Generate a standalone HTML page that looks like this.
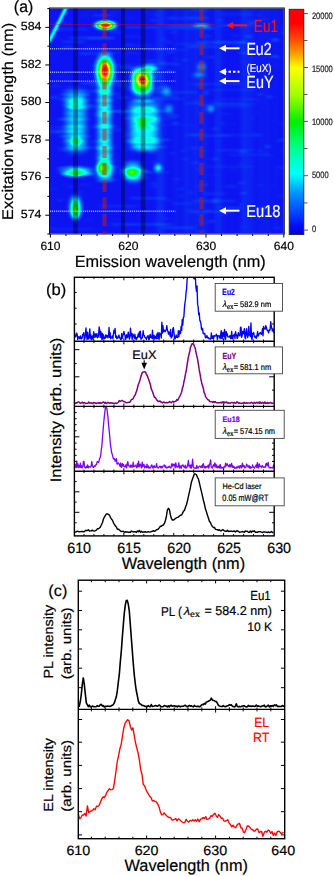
<!DOCTYPE html>
<html><head><meta charset="utf-8"><style>
html,body{margin:0;padding:0;background:#fff;}
body{width:334px;height:876px;overflow:hidden;}
svg{display:block;font-family:"Liberation Sans", sans-serif;text-rendering:geometricPrecision;}
text{stroke:currentColor;stroke-width:0.2px;}
</style></head><body>
<svg xmlns="http://www.w3.org/2000/svg" width="334" height="876" viewBox="0 0 334 876">
<defs>
<clipPath id="clipA"><rect x="50.0" y="8.5" width="233.8" height="225.0"/></clipPath>
<filter id="jet" x="0" y="0" width="100%" height="100%" color-interpolation-filters="sRGB"><feComponentTransfer><feFuncR type="table" tableValues="0.05 0.04 0.02 1 1"/><feFuncG type="table" tableValues="0.08 1 1 1 0"/><feFuncB type="table" tableValues="0.95 1 0 0 0"/></feComponentTransfer></filter>
<filter id="bl1" x="-50%" y="-50%" width="200%" height="200%"><feGaussianBlur stdDeviation="1"/></filter>
<filter id="bl2" x="-50%" y="-50%" width="200%" height="200%"><feGaussianBlur stdDeviation="2"/></filter>
<filter id="bl3" x="-50%" y="-50%" width="200%" height="200%"><feGaussianBlur stdDeviation="3"/></filter>
<filter id="blh" x="-50%" y="-50%" width="200%" height="200%"><feGaussianBlur stdDeviation="2 0.6"/></filter>
<radialGradient id="spot"><stop offset="0" stop-color="#fff" stop-opacity="1"/><stop offset="0.3" stop-color="#fff" stop-opacity="0.97"/><stop offset="0.5" stop-color="#fff" stop-opacity="0.78"/><stop offset="0.7" stop-color="#fff" stop-opacity="0.48"/><stop offset="0.87" stop-color="#fff" stop-opacity="0.2"/><stop offset="1" stop-color="#fff" stop-opacity="0"/></radialGradient>
<radialGradient id="soft"><stop offset="0" stop-color="#fff" stop-opacity="1"/><stop offset="0.5" stop-color="#fff" stop-opacity="0.6"/><stop offset="1" stop-color="#fff" stop-opacity="0"/></radialGradient>
<linearGradient id="cbar" x1="0" y1="0" x2="0" y2="1"><stop offset="0" stop-color="#ff0000"/><stop offset="0.06" stop-color="#ff0000"/><stop offset="0.14" stop-color="#ff5000"/><stop offset="0.2" stop-color="#ffa000"/><stop offset="0.26" stop-color="#ffff00"/><stop offset="0.38" stop-color="#a0ff00"/><stop offset="0.5" stop-color="#00ee00"/><stop offset="0.62" stop-color="#00ff90"/><stop offset="0.73" stop-color="#00ffff"/><stop offset="0.82" stop-color="#0090ff"/><stop offset="0.9" stop-color="#0048ff"/><stop offset="0.96" stop-color="#0010f0"/><stop offset="1" stop-color="#0000e0"/></linearGradient>
<filter id="bl08" x="-10%" y="-10%" width="120%" height="120%"><feGaussianBlur stdDeviation="0.8"/></filter>
<radialGradient id="g150"><stop offset="0" stop-color="#fff" stop-opacity="1"/><stop offset="0.05" stop-color="#fff" stop-opacity="1"/><stop offset="0.1" stop-color="#fff" stop-opacity="1"/><stop offset="0.15" stop-color="#fff" stop-opacity="1"/><stop offset="0.2" stop-color="#fff" stop-opacity="1"/><stop offset="0.25" stop-color="#fff" stop-opacity="1"/><stop offset="0.3" stop-color="#fff" stop-opacity="1"/><stop offset="0.35" stop-color="#fff" stop-opacity="0.97"/><stop offset="0.4" stop-color="#fff" stop-opacity="0.85"/><stop offset="0.45" stop-color="#fff" stop-opacity="0.73"/><stop offset="0.5" stop-color="#fff" stop-opacity="0.61"/><stop offset="0.55" stop-color="#fff" stop-opacity="0.51"/><stop offset="0.6" stop-color="#fff" stop-opacity="0.41"/><stop offset="0.65" stop-color="#fff" stop-opacity="0.32"/><stop offset="0.7" stop-color="#fff" stop-opacity="0.24"/><stop offset="0.75" stop-color="#fff" stop-opacity="0.18"/><stop offset="0.8" stop-color="#fff" stop-opacity="0.13"/><stop offset="0.85" stop-color="#fff" stop-opacity="0.08"/><stop offset="0.9" stop-color="#fff" stop-opacity="0.05"/><stop offset="0.95" stop-color="#fff" stop-opacity="0.02"/><stop offset="1" stop-color="#fff" stop-opacity="0"/></radialGradient>
<filter id="bf0" x="-60%" y="-60%" width="220%" height="220%"><feGaussianBlur stdDeviation="2.2 5"/></filter>
<radialGradient id="g114"><stop offset="0" stop-color="#fff" stop-opacity="1"/><stop offset="0.05" stop-color="#fff" stop-opacity="1"/><stop offset="0.1" stop-color="#fff" stop-opacity="1"/><stop offset="0.15" stop-color="#fff" stop-opacity="1"/><stop offset="0.2" stop-color="#fff" stop-opacity="1"/><stop offset="0.25" stop-color="#fff" stop-opacity="0.92"/><stop offset="0.3" stop-color="#fff" stop-opacity="0.84"/><stop offset="0.35" stop-color="#fff" stop-opacity="0.75"/><stop offset="0.4" stop-color="#fff" stop-opacity="0.65"/><stop offset="0.45" stop-color="#fff" stop-opacity="0.56"/><stop offset="0.5" stop-color="#fff" stop-opacity="0.47"/><stop offset="0.55" stop-color="#fff" stop-opacity="0.39"/><stop offset="0.6" stop-color="#fff" stop-opacity="0.31"/><stop offset="0.65" stop-color="#fff" stop-opacity="0.24"/><stop offset="0.7" stop-color="#fff" stop-opacity="0.19"/><stop offset="0.75" stop-color="#fff" stop-opacity="0.14"/><stop offset="0.8" stop-color="#fff" stop-opacity="0.1"/><stop offset="0.85" stop-color="#fff" stop-opacity="0.06"/><stop offset="0.9" stop-color="#fff" stop-opacity="0.04"/><stop offset="0.95" stop-color="#fff" stop-opacity="0.02"/><stop offset="1" stop-color="#fff" stop-opacity="0"/></radialGradient>
<filter id="bf1" x="-60%" y="-60%" width="220%" height="220%"><feGaussianBlur stdDeviation="2 2"/></filter>
<radialGradient id="g44"><stop offset="0" stop-color="#fff" stop-opacity="0.44"/><stop offset="0.05" stop-color="#fff" stop-opacity="0.44"/><stop offset="0.1" stop-color="#fff" stop-opacity="0.42"/><stop offset="0.15" stop-color="#fff" stop-opacity="0.41"/><stop offset="0.2" stop-color="#fff" stop-opacity="0.38"/><stop offset="0.25" stop-color="#fff" stop-opacity="0.35"/><stop offset="0.3" stop-color="#fff" stop-opacity="0.32"/><stop offset="0.35" stop-color="#fff" stop-opacity="0.29"/><stop offset="0.4" stop-color="#fff" stop-opacity="0.25"/><stop offset="0.45" stop-color="#fff" stop-opacity="0.21"/><stop offset="0.5" stop-color="#fff" stop-opacity="0.18"/><stop offset="0.55" stop-color="#fff" stop-opacity="0.15"/><stop offset="0.6" stop-color="#fff" stop-opacity="0.12"/><stop offset="0.65" stop-color="#fff" stop-opacity="0.09"/><stop offset="0.7" stop-color="#fff" stop-opacity="0.07"/><stop offset="0.75" stop-color="#fff" stop-opacity="0.05"/><stop offset="0.8" stop-color="#fff" stop-opacity="0.04"/><stop offset="0.85" stop-color="#fff" stop-opacity="0.02"/><stop offset="0.9" stop-color="#fff" stop-opacity="0.01"/><stop offset="0.95" stop-color="#fff" stop-opacity="0.01"/><stop offset="1" stop-color="#fff" stop-opacity="0"/></radialGradient>
<filter id="bf2" x="-60%" y="-60%" width="220%" height="220%"><feGaussianBlur stdDeviation="2.5 2.5"/></filter>
<filter id="bf3" x="-60%" y="-60%" width="220%" height="220%"><feGaussianBlur stdDeviation="1.5 1.5"/></filter>
<radialGradient id="g120"><stop offset="0" stop-color="#fff" stop-opacity="1"/><stop offset="0.05" stop-color="#fff" stop-opacity="1"/><stop offset="0.1" stop-color="#fff" stop-opacity="1"/><stop offset="0.15" stop-color="#fff" stop-opacity="1"/><stop offset="0.2" stop-color="#fff" stop-opacity="1"/><stop offset="0.25" stop-color="#fff" stop-opacity="0.96"/><stop offset="0.3" stop-color="#fff" stop-opacity="0.87"/><stop offset="0.35" stop-color="#fff" stop-opacity="0.78"/><stop offset="0.4" stop-color="#fff" stop-opacity="0.68"/><stop offset="0.45" stop-color="#fff" stop-opacity="0.58"/><stop offset="0.5" stop-color="#fff" stop-opacity="0.49"/><stop offset="0.55" stop-color="#fff" stop-opacity="0.4"/><stop offset="0.6" stop-color="#fff" stop-opacity="0.33"/><stop offset="0.65" stop-color="#fff" stop-opacity="0.26"/><stop offset="0.7" stop-color="#fff" stop-opacity="0.19"/><stop offset="0.75" stop-color="#fff" stop-opacity="0.14"/><stop offset="0.8" stop-color="#fff" stop-opacity="0.1"/><stop offset="0.85" stop-color="#fff" stop-opacity="0.07"/><stop offset="0.9" stop-color="#fff" stop-opacity="0.04"/><stop offset="0.95" stop-color="#fff" stop-opacity="0.02"/><stop offset="1" stop-color="#fff" stop-opacity="0"/></radialGradient>
<filter id="bf4" x="-60%" y="-60%" width="220%" height="220%"><feGaussianBlur stdDeviation="3 4"/></filter>
<radialGradient id="g42"><stop offset="0" stop-color="#fff" stop-opacity="0.42"/><stop offset="0.05" stop-color="#fff" stop-opacity="0.42"/><stop offset="0.1" stop-color="#fff" stop-opacity="0.41"/><stop offset="0.15" stop-color="#fff" stop-opacity="0.39"/><stop offset="0.2" stop-color="#fff" stop-opacity="0.37"/><stop offset="0.25" stop-color="#fff" stop-opacity="0.34"/><stop offset="0.3" stop-color="#fff" stop-opacity="0.31"/><stop offset="0.35" stop-color="#fff" stop-opacity="0.27"/><stop offset="0.4" stop-color="#fff" stop-opacity="0.24"/><stop offset="0.45" stop-color="#fff" stop-opacity="0.2"/><stop offset="0.5" stop-color="#fff" stop-opacity="0.17"/><stop offset="0.55" stop-color="#fff" stop-opacity="0.14"/><stop offset="0.6" stop-color="#fff" stop-opacity="0.11"/><stop offset="0.65" stop-color="#fff" stop-opacity="0.09"/><stop offset="0.7" stop-color="#fff" stop-opacity="0.07"/><stop offset="0.75" stop-color="#fff" stop-opacity="0.05"/><stop offset="0.8" stop-color="#fff" stop-opacity="0.04"/><stop offset="0.85" stop-color="#fff" stop-opacity="0.02"/><stop offset="0.9" stop-color="#fff" stop-opacity="0.01"/><stop offset="0.95" stop-color="#fff" stop-opacity="0.01"/><stop offset="1" stop-color="#fff" stop-opacity="0"/></radialGradient>
<radialGradient id="g45"><stop offset="0" stop-color="#fff" stop-opacity="0.45"/><stop offset="0.05" stop-color="#fff" stop-opacity="0.45"/><stop offset="0.1" stop-color="#fff" stop-opacity="0.43"/><stop offset="0.15" stop-color="#fff" stop-opacity="0.42"/><stop offset="0.2" stop-color="#fff" stop-opacity="0.39"/><stop offset="0.25" stop-color="#fff" stop-opacity="0.36"/><stop offset="0.3" stop-color="#fff" stop-opacity="0.33"/><stop offset="0.35" stop-color="#fff" stop-opacity="0.29"/><stop offset="0.4" stop-color="#fff" stop-opacity="0.26"/><stop offset="0.45" stop-color="#fff" stop-opacity="0.22"/><stop offset="0.5" stop-color="#fff" stop-opacity="0.18"/><stop offset="0.55" stop-color="#fff" stop-opacity="0.15"/><stop offset="0.6" stop-color="#fff" stop-opacity="0.12"/><stop offset="0.65" stop-color="#fff" stop-opacity="0.1"/><stop offset="0.7" stop-color="#fff" stop-opacity="0.07"/><stop offset="0.75" stop-color="#fff" stop-opacity="0.05"/><stop offset="0.8" stop-color="#fff" stop-opacity="0.04"/><stop offset="0.85" stop-color="#fff" stop-opacity="0.02"/><stop offset="0.9" stop-color="#fff" stop-opacity="0.01"/><stop offset="0.95" stop-color="#fff" stop-opacity="0.01"/><stop offset="1" stop-color="#fff" stop-opacity="0"/></radialGradient>
<radialGradient id="g28"><stop offset="0" stop-color="#fff" stop-opacity="0.28"/><stop offset="0.05" stop-color="#fff" stop-opacity="0.28"/><stop offset="0.1" stop-color="#fff" stop-opacity="0.27"/><stop offset="0.15" stop-color="#fff" stop-opacity="0.26"/><stop offset="0.2" stop-color="#fff" stop-opacity="0.24"/><stop offset="0.25" stop-color="#fff" stop-opacity="0.22"/><stop offset="0.3" stop-color="#fff" stop-opacity="0.2"/><stop offset="0.35" stop-color="#fff" stop-opacity="0.18"/><stop offset="0.4" stop-color="#fff" stop-opacity="0.16"/><stop offset="0.45" stop-color="#fff" stop-opacity="0.14"/><stop offset="0.5" stop-color="#fff" stop-opacity="0.11"/><stop offset="0.55" stop-color="#fff" stop-opacity="0.09"/><stop offset="0.6" stop-color="#fff" stop-opacity="0.08"/><stop offset="0.65" stop-color="#fff" stop-opacity="0.06"/><stop offset="0.7" stop-color="#fff" stop-opacity="0.05"/><stop offset="0.75" stop-color="#fff" stop-opacity="0.03"/><stop offset="0.8" stop-color="#fff" stop-opacity="0.02"/><stop offset="0.85" stop-color="#fff" stop-opacity="0.02"/><stop offset="0.9" stop-color="#fff" stop-opacity="0.01"/><stop offset="0.95" stop-color="#fff" stop-opacity="0"/><stop offset="1" stop-color="#fff" stop-opacity="0"/></radialGradient>
<radialGradient id="g30"><stop offset="0" stop-color="#fff" stop-opacity="0.3"/><stop offset="0.05" stop-color="#fff" stop-opacity="0.3"/><stop offset="0.1" stop-color="#fff" stop-opacity="0.29"/><stop offset="0.15" stop-color="#fff" stop-opacity="0.28"/><stop offset="0.2" stop-color="#fff" stop-opacity="0.26"/><stop offset="0.25" stop-color="#fff" stop-opacity="0.24"/><stop offset="0.3" stop-color="#fff" stop-opacity="0.22"/><stop offset="0.35" stop-color="#fff" stop-opacity="0.19"/><stop offset="0.4" stop-color="#fff" stop-opacity="0.17"/><stop offset="0.45" stop-color="#fff" stop-opacity="0.15"/><stop offset="0.5" stop-color="#fff" stop-opacity="0.12"/><stop offset="0.55" stop-color="#fff" stop-opacity="0.1"/><stop offset="0.6" stop-color="#fff" stop-opacity="0.08"/><stop offset="0.65" stop-color="#fff" stop-opacity="0.06"/><stop offset="0.7" stop-color="#fff" stop-opacity="0.05"/><stop offset="0.75" stop-color="#fff" stop-opacity="0.04"/><stop offset="0.8" stop-color="#fff" stop-opacity="0.03"/><stop offset="0.85" stop-color="#fff" stop-opacity="0.02"/><stop offset="0.9" stop-color="#fff" stop-opacity="0.01"/><stop offset="0.95" stop-color="#fff" stop-opacity="0"/><stop offset="1" stop-color="#fff" stop-opacity="0"/></radialGradient>
<filter id="bf5" x="-60%" y="-60%" width="220%" height="220%"><feGaussianBlur stdDeviation="3 1"/></filter>
<radialGradient id="g36"><stop offset="0" stop-color="#fff" stop-opacity="0.36"/><stop offset="0.05" stop-color="#fff" stop-opacity="0.36"/><stop offset="0.1" stop-color="#fff" stop-opacity="0.35"/><stop offset="0.15" stop-color="#fff" stop-opacity="0.33"/><stop offset="0.2" stop-color="#fff" stop-opacity="0.31"/><stop offset="0.25" stop-color="#fff" stop-opacity="0.29"/><stop offset="0.3" stop-color="#fff" stop-opacity="0.26"/><stop offset="0.35" stop-color="#fff" stop-opacity="0.23"/><stop offset="0.4" stop-color="#fff" stop-opacity="0.2"/><stop offset="0.45" stop-color="#fff" stop-opacity="0.18"/><stop offset="0.5" stop-color="#fff" stop-opacity="0.15"/><stop offset="0.55" stop-color="#fff" stop-opacity="0.12"/><stop offset="0.6" stop-color="#fff" stop-opacity="0.1"/><stop offset="0.65" stop-color="#fff" stop-opacity="0.08"/><stop offset="0.7" stop-color="#fff" stop-opacity="0.06"/><stop offset="0.75" stop-color="#fff" stop-opacity="0.04"/><stop offset="0.8" stop-color="#fff" stop-opacity="0.03"/><stop offset="0.85" stop-color="#fff" stop-opacity="0.02"/><stop offset="0.9" stop-color="#fff" stop-opacity="0.01"/><stop offset="0.95" stop-color="#fff" stop-opacity="0"/><stop offset="1" stop-color="#fff" stop-opacity="0"/></radialGradient>
<radialGradient id="g50"><stop offset="0" stop-color="#fff" stop-opacity="0.5"/><stop offset="0.05" stop-color="#fff" stop-opacity="0.5"/><stop offset="0.1" stop-color="#fff" stop-opacity="0.48"/><stop offset="0.15" stop-color="#fff" stop-opacity="0.46"/><stop offset="0.2" stop-color="#fff" stop-opacity="0.43"/><stop offset="0.25" stop-color="#fff" stop-opacity="0.4"/><stop offset="0.3" stop-color="#fff" stop-opacity="0.36"/><stop offset="0.35" stop-color="#fff" stop-opacity="0.32"/><stop offset="0.4" stop-color="#fff" stop-opacity="0.28"/><stop offset="0.45" stop-color="#fff" stop-opacity="0.24"/><stop offset="0.5" stop-color="#fff" stop-opacity="0.2"/><stop offset="0.55" stop-color="#fff" stop-opacity="0.17"/><stop offset="0.6" stop-color="#fff" stop-opacity="0.14"/><stop offset="0.65" stop-color="#fff" stop-opacity="0.11"/><stop offset="0.7" stop-color="#fff" stop-opacity="0.08"/><stop offset="0.75" stop-color="#fff" stop-opacity="0.06"/><stop offset="0.8" stop-color="#fff" stop-opacity="0.04"/><stop offset="0.85" stop-color="#fff" stop-opacity="0.03"/><stop offset="0.9" stop-color="#fff" stop-opacity="0.02"/><stop offset="0.95" stop-color="#fff" stop-opacity="0.01"/><stop offset="1" stop-color="#fff" stop-opacity="0"/></radialGradient>
<radialGradient id="g22"><stop offset="0" stop-color="#fff" stop-opacity="0.22"/><stop offset="0.05" stop-color="#fff" stop-opacity="0.22"/><stop offset="0.1" stop-color="#fff" stop-opacity="0.21"/><stop offset="0.15" stop-color="#fff" stop-opacity="0.2"/><stop offset="0.2" stop-color="#fff" stop-opacity="0.19"/><stop offset="0.25" stop-color="#fff" stop-opacity="0.18"/><stop offset="0.3" stop-color="#fff" stop-opacity="0.16"/><stop offset="0.35" stop-color="#fff" stop-opacity="0.14"/><stop offset="0.4" stop-color="#fff" stop-opacity="0.12"/><stop offset="0.45" stop-color="#fff" stop-opacity="0.11"/><stop offset="0.5" stop-color="#fff" stop-opacity="0.09"/><stop offset="0.55" stop-color="#fff" stop-opacity="0.07"/><stop offset="0.6" stop-color="#fff" stop-opacity="0.06"/><stop offset="0.65" stop-color="#fff" stop-opacity="0.05"/><stop offset="0.7" stop-color="#fff" stop-opacity="0.04"/><stop offset="0.75" stop-color="#fff" stop-opacity="0.03"/><stop offset="0.8" stop-color="#fff" stop-opacity="0.02"/><stop offset="0.85" stop-color="#fff" stop-opacity="0.01"/><stop offset="0.9" stop-color="#fff" stop-opacity="0.01"/><stop offset="0.95" stop-color="#fff" stop-opacity="0"/><stop offset="1" stop-color="#fff" stop-opacity="0"/></radialGradient>
<radialGradient id="g15"><stop offset="0" stop-color="#fff" stop-opacity="0.15"/><stop offset="0.05" stop-color="#fff" stop-opacity="0.15"/><stop offset="0.1" stop-color="#fff" stop-opacity="0.14"/><stop offset="0.15" stop-color="#fff" stop-opacity="0.14"/><stop offset="0.2" stop-color="#fff" stop-opacity="0.13"/><stop offset="0.25" stop-color="#fff" stop-opacity="0.12"/><stop offset="0.3" stop-color="#fff" stop-opacity="0.11"/><stop offset="0.35" stop-color="#fff" stop-opacity="0.1"/><stop offset="0.4" stop-color="#fff" stop-opacity="0.09"/><stop offset="0.45" stop-color="#fff" stop-opacity="0.07"/><stop offset="0.5" stop-color="#fff" stop-opacity="0.06"/><stop offset="0.55" stop-color="#fff" stop-opacity="0.05"/><stop offset="0.6" stop-color="#fff" stop-opacity="0.04"/><stop offset="0.65" stop-color="#fff" stop-opacity="0.03"/><stop offset="0.7" stop-color="#fff" stop-opacity="0.02"/><stop offset="0.75" stop-color="#fff" stop-opacity="0.02"/><stop offset="0.8" stop-color="#fff" stop-opacity="0.01"/><stop offset="0.85" stop-color="#fff" stop-opacity="0.01"/><stop offset="0.9" stop-color="#fff" stop-opacity="0"/><stop offset="0.95" stop-color="#fff" stop-opacity="0"/><stop offset="1" stop-color="#fff" stop-opacity="0"/></radialGradient>
<radialGradient id="g12"><stop offset="0" stop-color="#fff" stop-opacity="0.12"/><stop offset="0.05" stop-color="#fff" stop-opacity="0.12"/><stop offset="0.1" stop-color="#fff" stop-opacity="0.12"/><stop offset="0.15" stop-color="#fff" stop-opacity="0.11"/><stop offset="0.2" stop-color="#fff" stop-opacity="0.1"/><stop offset="0.25" stop-color="#fff" stop-opacity="0.1"/><stop offset="0.3" stop-color="#fff" stop-opacity="0.09"/><stop offset="0.35" stop-color="#fff" stop-opacity="0.08"/><stop offset="0.4" stop-color="#fff" stop-opacity="0.07"/><stop offset="0.45" stop-color="#fff" stop-opacity="0.06"/><stop offset="0.5" stop-color="#fff" stop-opacity="0.05"/><stop offset="0.55" stop-color="#fff" stop-opacity="0.04"/><stop offset="0.6" stop-color="#fff" stop-opacity="0.03"/><stop offset="0.65" stop-color="#fff" stop-opacity="0.03"/><stop offset="0.7" stop-color="#fff" stop-opacity="0.02"/><stop offset="0.75" stop-color="#fff" stop-opacity="0.01"/><stop offset="0.8" stop-color="#fff" stop-opacity="0.01"/><stop offset="0.85" stop-color="#fff" stop-opacity="0.01"/><stop offset="0.9" stop-color="#fff" stop-opacity="0"/><stop offset="0.95" stop-color="#fff" stop-opacity="0"/><stop offset="1" stop-color="#fff" stop-opacity="0"/></radialGradient>
<radialGradient id="g16"><stop offset="0" stop-color="#fff" stop-opacity="0.16"/><stop offset="0.05" stop-color="#fff" stop-opacity="0.16"/><stop offset="0.1" stop-color="#fff" stop-opacity="0.15"/><stop offset="0.15" stop-color="#fff" stop-opacity="0.15"/><stop offset="0.2" stop-color="#fff" stop-opacity="0.14"/><stop offset="0.25" stop-color="#fff" stop-opacity="0.13"/><stop offset="0.3" stop-color="#fff" stop-opacity="0.12"/><stop offset="0.35" stop-color="#fff" stop-opacity="0.1"/><stop offset="0.4" stop-color="#fff" stop-opacity="0.09"/><stop offset="0.45" stop-color="#fff" stop-opacity="0.08"/><stop offset="0.5" stop-color="#fff" stop-opacity="0.07"/><stop offset="0.55" stop-color="#fff" stop-opacity="0.05"/><stop offset="0.6" stop-color="#fff" stop-opacity="0.04"/><stop offset="0.65" stop-color="#fff" stop-opacity="0.03"/><stop offset="0.7" stop-color="#fff" stop-opacity="0.03"/><stop offset="0.75" stop-color="#fff" stop-opacity="0.02"/><stop offset="0.8" stop-color="#fff" stop-opacity="0.01"/><stop offset="0.85" stop-color="#fff" stop-opacity="0.01"/><stop offset="0.9" stop-color="#fff" stop-opacity="0.01"/><stop offset="0.95" stop-color="#fff" stop-opacity="0"/><stop offset="1" stop-color="#fff" stop-opacity="0"/></radialGradient>
<radialGradient id="g14"><stop offset="0" stop-color="#fff" stop-opacity="0.14"/><stop offset="0.05" stop-color="#fff" stop-opacity="0.14"/><stop offset="0.1" stop-color="#fff" stop-opacity="0.14"/><stop offset="0.15" stop-color="#fff" stop-opacity="0.13"/><stop offset="0.2" stop-color="#fff" stop-opacity="0.12"/><stop offset="0.25" stop-color="#fff" stop-opacity="0.11"/><stop offset="0.3" stop-color="#fff" stop-opacity="0.1"/><stop offset="0.35" stop-color="#fff" stop-opacity="0.09"/><stop offset="0.4" stop-color="#fff" stop-opacity="0.08"/><stop offset="0.45" stop-color="#fff" stop-opacity="0.07"/><stop offset="0.5" stop-color="#fff" stop-opacity="0.06"/><stop offset="0.55" stop-color="#fff" stop-opacity="0.05"/><stop offset="0.6" stop-color="#fff" stop-opacity="0.04"/><stop offset="0.65" stop-color="#fff" stop-opacity="0.03"/><stop offset="0.7" stop-color="#fff" stop-opacity="0.02"/><stop offset="0.75" stop-color="#fff" stop-opacity="0.02"/><stop offset="0.8" stop-color="#fff" stop-opacity="0.01"/><stop offset="0.85" stop-color="#fff" stop-opacity="0.01"/><stop offset="0.9" stop-color="#fff" stop-opacity="0"/><stop offset="0.95" stop-color="#fff" stop-opacity="0"/><stop offset="1" stop-color="#fff" stop-opacity="0"/></radialGradient>
</defs>
<g clip-path="url(#clipA)">
<g filter="url(#jet)">
<rect x="50.0" y="8.5" width="233.8" height="225.0" fill="#000"/>
<g filter="url(#bl08)">
<g filter="url(#blh)">
<rect x="68.66" y="81.36" width="36.04" height="1.5" fill="#fff" opacity="0.02"/>
<rect x="109.48" y="129.07" width="12.32" height="1.5" fill="#fff" opacity="0.04"/>
<rect x="122.39" y="16.94" width="12.79" height="1.5" fill="#fff" opacity="0.02"/>
<rect x="197.1" y="104.02" width="14.95" height="1.5" fill="#fff" opacity="0.03"/>
<rect x="220.06" y="149.67" width="33.08" height="1.5" fill="#fff" opacity="0.04"/>
<rect x="48.85" y="228.16" width="44.34" height="1.5" fill="#fff" opacity="0.03"/>
<rect x="62.38" y="40.96" width="22.34" height="1.5" fill="#fff" opacity="0.05"/>
<rect x="150.5" y="49.16" width="35.56" height="1.5" fill="#fff" opacity="0.03"/>
<rect x="51.93" y="131.74" width="12.38" height="1.5" fill="#fff" opacity="0.03"/>
<rect x="121.24" y="161.59" width="22.57" height="1.5" fill="#fff" opacity="0.04"/>
<rect x="96.96" y="110.47" width="41.78" height="1.5" fill="#fff" opacity="0.05"/>
<rect x="149.14" y="63.42" width="31.01" height="1.5" fill="#fff" opacity="0.06"/>
<rect x="94.71" y="172.63" width="49.21" height="1.5" fill="#fff" opacity="0.02"/>
<rect x="183.86" y="102.58" width="16.08" height="1.5" fill="#fff" opacity="0.04"/>
<rect x="166.96" y="17.32" width="40.58" height="1.5" fill="#fff" opacity="0.04"/>
<rect x="99.61" y="205.48" width="37.81" height="1.5" fill="#fff" opacity="0.04"/>
<rect x="126.68" y="138.98" width="43.6" height="1.5" fill="#fff" opacity="0.06"/>
<rect x="166.19" y="115.17" width="12.43" height="1.5" fill="#fff" opacity="0.05"/>
<rect x="228.69" y="154.1" width="42.88" height="1.5" fill="#fff" opacity="0.03"/>
<rect x="167.04" y="95.3" width="10.9" height="1.5" fill="#fff" opacity="0.04"/>
<rect x="62.25" y="46.31" width="12.36" height="1.5" fill="#fff" opacity="0.05"/>
<rect x="87.05" y="37.6" width="25.64" height="1.5" fill="#fff" opacity="0.05"/>
<rect x="125.35" y="26.63" width="31.98" height="1.5" fill="#fff" opacity="0.06"/>
<rect x="204.16" y="192.84" width="21.14" height="1.5" fill="#fff" opacity="0.04"/>
<rect x="208" y="89.22" width="48.31" height="1.5" fill="#fff" opacity="0.03"/>
<rect x="84.07" y="48.15" width="19.33" height="1.5" fill="#fff" opacity="0.04"/>
<rect x="89.92" y="141.05" width="10.16" height="1.5" fill="#fff" opacity="0.04"/>
<rect x="147.6" y="91.58" width="48.12" height="1.5" fill="#fff" opacity="0.05"/>
<rect x="157.34" y="124.49" width="37.05" height="1.5" fill="#fff" opacity="0.02"/>
<rect x="188.19" y="210.89" width="44.98" height="1.5" fill="#fff" opacity="0.05"/>
<rect x="115.81" y="96.79" width="14.14" height="1.5" fill="#fff" opacity="0.05"/>
<rect x="52.8" y="22.51" width="18.35" height="1.5" fill="#fff" opacity="0.03"/>
<rect x="49.99" y="85.01" width="10.01" height="1.5" fill="#fff" opacity="0.03"/>
<rect x="109.09" y="31.33" width="11.02" height="1.5" fill="#fff" opacity="0.05"/>
<rect x="68.22" y="146.67" width="20.09" height="1.5" fill="#fff" opacity="0.03"/>
<rect x="63.34" y="90.44" width="43.96" height="1.5" fill="#fff" opacity="0.06"/>
<rect x="131.93" y="113.35" width="13.44" height="1.5" fill="#fff" opacity="0.02"/>
<rect x="90.3" y="85.59" width="43.15" height="1.5" fill="#fff" opacity="0.03"/>
<rect x="220.69" y="13.7" width="31.13" height="1.5" fill="#fff" opacity="0.03"/>
<rect x="45.14" y="130.71" width="31.12" height="1.5" fill="#fff" opacity="0.06"/>
<rect x="172.28" y="202.75" width="20.44" height="1.5" fill="#fff" opacity="0.03"/>
<rect x="186.67" y="46.08" width="31.3" height="1.5" fill="#fff" opacity="0.05"/>
<rect x="82.38" y="82.67" width="42.46" height="1.5" fill="#fff" opacity="0.06"/>
<rect x="193.15" y="200.34" width="42.73" height="1.5" fill="#fff" opacity="0.05"/>
<rect x="138.35" y="59.52" width="24.22" height="1.5" fill="#fff" opacity="0.02"/>
<rect x="93.09" y="14.79" width="20.37" height="1.5" fill="#fff" opacity="0.05"/>
<rect x="124.97" y="223.72" width="47.48" height="1.5" fill="#fff" opacity="0.06"/>
<rect x="109.28" y="223.38" width="18.82" height="1.5" fill="#fff" opacity="0.03"/>
<rect x="78.83" y="52.76" width="34.96" height="1.5" fill="#fff" opacity="0.06"/>
<rect x="131.1" y="197.6" width="36.12" height="1.5" fill="#fff" opacity="0.05"/>
<rect x="165.51" y="27.58" width="46.39" height="1.5" fill="#fff" opacity="0.05"/>
<rect x="130.83" y="177.28" width="17.14" height="1.5" fill="#fff" opacity="0.05"/>
<rect x="192.16" y="83.32" width="48.87" height="1.5" fill="#fff" opacity="0.04"/>
<rect x="219.89" y="98.81" width="38.99" height="1.5" fill="#fff" opacity="0.03"/>
<rect x="68.72" y="37.08" width="46.19" height="1.5" fill="#fff" opacity="0.05"/>
<rect x="197.04" y="41.39" width="49.21" height="1.5" fill="#fff" opacity="0.05"/>
<rect x="144.25" y="87.34" width="15.24" height="1.5" fill="#fff" opacity="0.02"/>
<rect x="163.44" y="226.95" width="31.06" height="1.5" fill="#fff" opacity="0.06"/>
<rect x="205.63" y="106.11" width="43.05" height="1.5" fill="#fff" opacity="0.03"/>
<rect x="95.66" y="65.16" width="19.62" height="1.5" fill="#fff" opacity="0.04"/>
<rect x="119.61" y="66.86" width="15.24" height="1.5" fill="#fff" opacity="0.06"/>
<rect x="127.05" y="88.1" width="33.33" height="1.5" fill="#fff" opacity="0.06"/>
<rect x="214.37" y="103.14" width="30.07" height="1.5" fill="#fff" opacity="0.04"/>
<rect x="43.55" y="126.29" width="27.6" height="1.5" fill="#fff" opacity="0.03"/>
<rect x="191.84" y="9.38" width="16.89" height="1.5" fill="#fff" opacity="0.04"/>
<rect x="145.73" y="171.67" width="23.04" height="1.5" fill="#fff" opacity="0.04"/>
<rect x="189.01" y="133.47" width="14.24" height="1.5" fill="#fff" opacity="0.04"/>
<rect x="92.61" y="64.41" width="40.89" height="1.5" fill="#fff" opacity="0.04"/>
<rect x="184.4" y="134.89" width="46.5" height="1.5" fill="#fff" opacity="0.04"/>
<rect x="136.06" y="146.32" width="30.49" height="1.5" fill="#fff" opacity="0.05"/>
<rect x="141.32" y="110.28" width="29.12" height="1.5" fill="#fff" opacity="0.06"/>
<rect x="206.54" y="165.82" width="47.69" height="1.5" fill="#fff" opacity="0.03"/>
<rect x="219.22" y="134.39" width="43.6" height="1.5" fill="#fff" opacity="0.03"/>
<rect x="124" y="35.86" width="12.9" height="1.5" fill="#fff" opacity="0.03"/>
<rect x="167.2" y="24.95" width="41.36" height="1.5" fill="#fff" opacity="0.06"/>
<rect x="176.06" y="43.25" width="36.41" height="1.5" fill="#fff" opacity="0.03"/>
<rect x="223.83" y="207.14" width="18.78" height="1.5" fill="#fff" opacity="0.06"/>
<rect x="132.58" y="98.11" width="49.59" height="1.5" fill="#fff" opacity="0.05"/>
<rect x="121.99" y="44.83" width="30.62" height="1.5" fill="#fff" opacity="0.03"/>
<rect x="100.52" y="52.54" width="38.89" height="1.5" fill="#fff" opacity="0.02"/>
<rect x="123.69" y="133.16" width="10.72" height="1.5" fill="#fff" opacity="0.03"/>
<rect x="137.33" y="148.88" width="12.57" height="1.5" fill="#fff" opacity="0.06"/>
<rect x="224.62" y="185.88" width="14.19" height="1.5" fill="#fff" opacity="0.03"/>
<rect x="188.01" y="17.41" width="20.82" height="1.5" fill="#fff" opacity="0.03"/>
<rect x="213.17" y="103.51" width="42.76" height="1.5" fill="#fff" opacity="0.03"/>
<rect x="214.64" y="42.11" width="32.82" height="1.5" fill="#fff" opacity="0.05"/>
<rect x="50.93" y="28.63" width="37.53" height="1.5" fill="#fff" opacity="0.04"/>
<rect x="218.29" y="24.79" width="35.38" height="1.5" fill="#fff" opacity="0.05"/>
<rect x="202.68" y="27.34" width="12.66" height="1.5" fill="#fff" opacity="0.05"/>
<rect x="104.44" y="110.6" width="32.12" height="1.5" fill="#fff" opacity="0.06"/>
<rect x="185.89" y="8.5" width="1.5" height="225.0" fill="#fff" opacity="0.02"/>
<rect x="220.61" y="8.5" width="1.5" height="225.0" fill="#fff" opacity="0.03"/>
<rect x="164.67" y="8.5" width="1.5" height="225.0" fill="#fff" opacity="0.02"/>
<rect x="156.75" y="8.5" width="1.5" height="225.0" fill="#fff" opacity="0.03"/>
<rect x="191.81" y="8.5" width="1.5" height="225.0" fill="#fff" opacity="0.03"/>
<rect x="251.77" y="8.5" width="1.5" height="225.0" fill="#fff" opacity="0.03"/>
<rect x="217.01" y="8.5" width="1.5" height="225.0" fill="#fff" opacity="0.03"/>
<rect x="196.5" y="8.5" width="1.5" height="225.0" fill="#fff" opacity="0.02"/>
<rect x="183.56" y="8.5" width="1.5" height="225.0" fill="#fff" opacity="0.02"/>
<rect x="248.23" y="8.5" width="1.5" height="225.0" fill="#fff" opacity="0.04"/>
<rect x="175.39" y="8.5" width="1.5" height="225.0" fill="#fff" opacity="0.03"/>
<rect x="275.24" y="8.5" width="1.5" height="225.0" fill="#fff" opacity="0.02"/>
<rect x="259.74" y="8.5" width="1.5" height="225.0" fill="#fff" opacity="0.03"/>
<rect x="216.33" y="8.5" width="1.5" height="225.0" fill="#fff" opacity="0.05"/>
<rect x="202.67" y="8.5" width="1.5" height="225.0" fill="#fff" opacity="0.04"/>
<rect x="242.16" y="8.5" width="1.5" height="225.0" fill="#fff" opacity="0.05"/>
<rect x="195.92" y="8.5" width="1.5" height="225.0" fill="#fff" opacity="0.04"/>
<rect x="244.7" y="8.5" width="1.5" height="225.0" fill="#fff" opacity="0.04"/>
<rect x="204.23" y="8.5" width="1.5" height="225.0" fill="#fff" opacity="0.03"/>
<rect x="157.29" y="8.5" width="1.5" height="225.0" fill="#fff" opacity="0.02"/>
<rect x="159.48" y="8.5" width="1.5" height="225.0" fill="#fff" opacity="0.04"/>
<rect x="184.25" y="8.5" width="1.5" height="225.0" fill="#fff" opacity="0.02"/>
<rect x="161.32" y="8.5" width="1.5" height="225.0" fill="#fff" opacity="0.05"/>
<rect x="266.65" y="8.5" width="1.5" height="225.0" fill="#fff" opacity="0.04"/>
<rect x="187.78" y="8.5" width="1.5" height="225.0" fill="#fff" opacity="0.03"/>
<rect x="118.52" y="111.88" width="2.21" height="1.67" fill="#fff" opacity="0.02"/>
<rect x="274.87" y="227.34" width="3.96" height="1.37" fill="#fff" opacity="0.07"/>
<rect x="122.37" y="88.73" width="1.5" height="1.57" fill="#fff" opacity="0.03"/>
<rect x="167.55" y="53.72" width="3.77" height="1.01" fill="#fff" opacity="0.03"/>
<rect x="70.98" y="98.39" width="1.69" height="1.03" fill="#fff" opacity="0.02"/>
<rect x="104.43" y="140.26" width="3.88" height="2.13" fill="#fff" opacity="0.03"/>
<rect x="217.4" y="206.3" width="3.25" height="1.49" fill="#fff" opacity="0.07"/>
<rect x="84.94" y="171.44" width="4.39" height="1.07" fill="#fff" opacity="0.04"/>
<rect x="258.54" y="149.65" width="4.8" height="2.22" fill="#fff" opacity="0.03"/>
<rect x="172.45" y="121.98" width="5.26" height="2.21" fill="#fff" opacity="0.06"/>
<rect x="186.55" y="209.39" width="4.57" height="2.04" fill="#fff" opacity="0.03"/>
<rect x="57.29" y="38.45" width="3.12" height="1.16" fill="#fff" opacity="0.04"/>
<rect x="180.58" y="149.75" width="4.32" height="2.02" fill="#fff" opacity="0.04"/>
<rect x="50.77" y="187.98" width="4.87" height="1.75" fill="#fff" opacity="0.03"/>
<rect x="204.14" y="23.36" width="4.82" height="1.38" fill="#fff" opacity="0.02"/>
<rect x="112.09" y="172.6" width="2.42" height="2.11" fill="#fff" opacity="0.04"/>
<rect x="165.49" y="94.58" width="3.66" height="2.03" fill="#fff" opacity="0.06"/>
<rect x="194.25" y="153.12" width="1.85" height="1.22" fill="#fff" opacity="0.03"/>
<rect x="223.76" y="76.99" width="4.05" height="1.02" fill="#fff" opacity="0.02"/>
<rect x="112.84" y="159.7" width="4.61" height="2.01" fill="#fff" opacity="0.02"/>
<rect x="170.77" y="113.05" width="3.6" height="1.18" fill="#fff" opacity="0.06"/>
<rect x="96.58" y="228.58" width="5.71" height="1.03" fill="#fff" opacity="0.03"/>
<rect x="241.69" y="226.32" width="3.52" height="1.4" fill="#fff" opacity="0.03"/>
<rect x="271.08" y="55.91" width="4.12" height="1.21" fill="#fff" opacity="0.05"/>
<rect x="272.75" y="38.34" width="5.19" height="1.76" fill="#fff" opacity="0.06"/>
<rect x="214.44" y="60.56" width="5.54" height="1.73" fill="#fff" opacity="0.02"/>
<rect x="50.84" y="119.13" width="3.53" height="1.45" fill="#fff" opacity="0.02"/>
<rect x="130.42" y="79.62" width="5.28" height="1" fill="#fff" opacity="0.03"/>
<rect x="246.18" y="35.51" width="5.67" height="2.07" fill="#fff" opacity="0.07"/>
<rect x="117.76" y="92.25" width="3.27" height="2.5" fill="#fff" opacity="0.03"/>
<rect x="134.33" y="104.81" width="2.74" height="1.07" fill="#fff" opacity="0.02"/>
<rect x="245.15" y="72.77" width="5.71" height="1.37" fill="#fff" opacity="0.03"/>
<rect x="169.46" y="51.22" width="3.18" height="2.43" fill="#fff" opacity="0.06"/>
<rect x="239.84" y="150.45" width="5.61" height="2.41" fill="#fff" opacity="0.05"/>
<rect x="218.24" y="19.63" width="4.8" height="1.68" fill="#fff" opacity="0.06"/>
<rect x="200.68" y="72.9" width="1.72" height="2.39" fill="#fff" opacity="0.03"/>
<rect x="160.4" y="85.82" width="2.84" height="2.11" fill="#fff" opacity="0.07"/>
<rect x="110.83" y="156.1" width="2.85" height="1.84" fill="#fff" opacity="0.02"/>
<rect x="89.12" y="44.87" width="2.44" height="2.36" fill="#fff" opacity="0.03"/>
<rect x="101.44" y="212.41" width="5.98" height="1.67" fill="#fff" opacity="0.02"/>
<rect x="94.98" y="28.91" width="3.04" height="1.14" fill="#fff" opacity="0.02"/>
<rect x="110.4" y="136.66" width="5.49" height="2.12" fill="#fff" opacity="0.02"/>
<rect x="146.77" y="126.44" width="3.2" height="1.51" fill="#fff" opacity="0.01"/>
<rect x="114.88" y="226.23" width="2.07" height="1.76" fill="#fff" opacity="0.03"/>
<rect x="251.74" y="57.09" width="2.72" height="1.37" fill="#fff" opacity="0.04"/>
<rect x="154.24" y="223.14" width="5.32" height="2.31" fill="#fff" opacity="0.02"/>
<rect x="57.54" y="168.14" width="5.53" height="1.71" fill="#fff" opacity="0.03"/>
<rect x="50.04" y="96.59" width="5.67" height="2.24" fill="#fff" opacity="0.04"/>
<rect x="277.31" y="64.4" width="1.99" height="1.23" fill="#fff" opacity="0.05"/>
<rect x="209.47" y="220.34" width="4.75" height="1.97" fill="#fff" opacity="0.06"/>
<rect x="156.92" y="132.59" width="1.68" height="2.17" fill="#fff" opacity="0.03"/>
<rect x="265.08" y="153.74" width="2.87" height="1.19" fill="#fff" opacity="0.03"/>
<rect x="198.76" y="165.68" width="2" height="1.11" fill="#fff" opacity="0.05"/>
<rect x="186.28" y="95.82" width="2.51" height="1.9" fill="#fff" opacity="0.02"/>
<rect x="120.5" y="112.16" width="5.82" height="1.97" fill="#fff" opacity="0.04"/>
<rect x="161.13" y="61.32" width="2.61" height="2.44" fill="#fff" opacity="0.06"/>
<rect x="121.87" y="13.4" width="3.74" height="2.01" fill="#fff" opacity="0.02"/>
<rect x="110.15" y="158.65" width="5.66" height="1.34" fill="#fff" opacity="0.01"/>
<rect x="129.04" y="103.13" width="4.57" height="1.3" fill="#fff" opacity="0.04"/>
<rect x="222.81" y="122.1" width="2.42" height="2.45" fill="#fff" opacity="0.04"/>
<rect x="241.72" y="60.43" width="2.5" height="2.14" fill="#fff" opacity="0.03"/>
<rect x="272.56" y="120.05" width="2.34" height="1.33" fill="#fff" opacity="0.04"/>
<rect x="205.55" y="221.97" width="2.16" height="1.59" fill="#fff" opacity="0.03"/>
<rect x="277.75" y="40.43" width="1.73" height="1.09" fill="#fff" opacity="0.04"/>
<rect x="259.99" y="207.31" width="4.8" height="2.5" fill="#fff" opacity="0.07"/>
<rect x="126.98" y="50.24" width="5.71" height="2.12" fill="#fff" opacity="0.01"/>
<rect x="205.34" y="93.69" width="3.18" height="1.5" fill="#fff" opacity="0.03"/>
<rect x="50.67" y="71.46" width="3.08" height="2.43" fill="#fff" opacity="0.02"/>
<rect x="275.45" y="55.17" width="3.1" height="2.23" fill="#fff" opacity="0.06"/>
<rect x="151.11" y="19.58" width="3.63" height="1.56" fill="#fff" opacity="0.07"/>
<rect x="95.13" y="90.46" width="5.54" height="1.05" fill="#fff" opacity="0.02"/>
<rect x="239.8" y="181" width="1.68" height="1.05" fill="#fff" opacity="0.02"/>
<rect x="265.11" y="66.33" width="4.86" height="2.35" fill="#fff" opacity="0.04"/>
<rect x="113.67" y="223.98" width="4.28" height="1.39" fill="#fff" opacity="0.03"/>
<rect x="123.99" y="70.52" width="1.52" height="2.13" fill="#fff" opacity="0.04"/>
<rect x="198.22" y="220.73" width="1.61" height="1.35" fill="#fff" opacity="0.04"/>
<rect x="273.69" y="223.13" width="3.24" height="1.38" fill="#fff" opacity="0.04"/>
<rect x="165.37" y="217.32" width="2.32" height="2.2" fill="#fff" opacity="0.06"/>
<rect x="242.36" y="182.38" width="4.23" height="1.49" fill="#fff" opacity="0.04"/>
<rect x="134.6" y="184.51" width="1.86" height="1.3" fill="#fff" opacity="0.03"/>
<rect x="107.82" y="23.06" width="1.65" height="1.83" fill="#fff" opacity="0.02"/>
<rect x="279.18" y="207.28" width="5.95" height="1.4" fill="#fff" opacity="0.02"/>
<rect x="72.54" y="120.66" width="4.69" height="1.67" fill="#fff" opacity="0.02"/>
<rect x="147.46" y="148.07" width="4.53" height="2.12" fill="#fff" opacity="0.04"/>
<rect x="205.34" y="35.76" width="5.28" height="1.44" fill="#fff" opacity="0.05"/>
<rect x="137.2" y="174.57" width="2.4" height="1.37" fill="#fff" opacity="0.02"/>
<rect x="85.85" y="207.44" width="4.1" height="1.49" fill="#fff" opacity="0.02"/>
<rect x="282.03" y="122.65" width="2.54" height="2.21" fill="#fff" opacity="0.05"/>
<rect x="281.69" y="31.52" width="3.64" height="2.23" fill="#fff" opacity="0.06"/>
<rect x="263.78" y="17.58" width="2.82" height="1.18" fill="#fff" opacity="0.03"/>
<rect x="277.48" y="139.72" width="5.69" height="1.56" fill="#fff" opacity="0.06"/>
<rect x="155" y="66.99" width="5" height="2.42" fill="#fff" opacity="0.03"/>
<rect x="189.38" y="147.99" width="2.48" height="1.55" fill="#fff" opacity="0.03"/>
<rect x="97.69" y="65.86" width="4.2" height="1.98" fill="#fff" opacity="0.02"/>
<rect x="52.66" y="82.13" width="4.55" height="1.28" fill="#fff" opacity="0.02"/>
<rect x="97.56" y="187.44" width="3.97" height="1.09" fill="#fff" opacity="0.02"/>
<rect x="142.42" y="132.28" width="4.38" height="1.14" fill="#fff" opacity="0.02"/>
<rect x="212.59" y="100.7" width="2.77" height="1.46" fill="#fff" opacity="0.07"/>
<rect x="123.03" y="135.97" width="3.11" height="1.62" fill="#fff" opacity="0.04"/>
<rect x="283.01" y="90.35" width="2.39" height="2.09" fill="#fff" opacity="0.03"/>
<rect x="51.37" y="211.37" width="3.41" height="2.23" fill="#fff" opacity="0.02"/>
<rect x="256.41" y="112.2" width="2.23" height="1.02" fill="#fff" opacity="0.05"/>
<rect x="199.79" y="213.2" width="1.9" height="1.93" fill="#fff" opacity="0.04"/>
<rect x="167.94" y="41.32" width="2.77" height="1.78" fill="#fff" opacity="0.07"/>
<rect x="75.44" y="118.86" width="5.12" height="2.45" fill="#fff" opacity="0.02"/>
<rect x="79.61" y="220.69" width="5.89" height="1.72" fill="#fff" opacity="0.01"/>
<rect x="266.54" y="95.78" width="5.57" height="1.93" fill="#fff" opacity="0.06"/>
<rect x="87.47" y="185.31" width="2.5" height="1.61" fill="#fff" opacity="0.04"/>
<rect x="243.86" y="49.67" width="2.48" height="1.6" fill="#fff" opacity="0.05"/>
<rect x="139.68" y="36.19" width="2.61" height="2.09" fill="#fff" opacity="0.04"/>
<rect x="59.61" y="135.03" width="4.91" height="1.06" fill="#fff" opacity="0.04"/>
<rect x="77.53" y="143.39" width="3.98" height="1.94" fill="#fff" opacity="0.02"/>
<rect x="148.21" y="139.59" width="3.42" height="1.99" fill="#fff" opacity="0.03"/>
<rect x="152.49" y="13.76" width="4.29" height="1.73" fill="#fff" opacity="0.03"/>
<rect x="228.52" y="183.99" width="3.56" height="1.27" fill="#fff" opacity="0.04"/>
<rect x="75.03" y="37.4" width="3.44" height="1.14" fill="#fff" opacity="0.03"/>
<rect x="169.28" y="17.67" width="4.36" height="1.12" fill="#fff" opacity="0.06"/>
<rect x="231.81" y="123.58" width="1.74" height="1.76" fill="#fff" opacity="0.04"/>
<rect x="272.31" y="39.14" width="5.36" height="2.49" fill="#fff" opacity="0.06"/>
<rect x="240.54" y="52.08" width="5.92" height="1.74" fill="#fff" opacity="0.07"/>
<rect x="264.17" y="45.65" width="5.05" height="2.4" fill="#fff" opacity="0.02"/>
<rect x="132.04" y="178.64" width="2.21" height="2.34" fill="#fff" opacity="0.02"/>
<rect x="240.69" y="40.8" width="3.76" height="2.38" fill="#fff" opacity="0.03"/>
<rect x="111.46" y="122.35" width="2.94" height="1.06" fill="#fff" opacity="0.02"/>
<rect x="87.7" y="219.19" width="4.56" height="2.34" fill="#fff" opacity="0.02"/>
<rect x="233.5" y="34.39" width="3.89" height="1.95" fill="#fff" opacity="0.04"/>
<rect x="254.1" y="133.42" width="4.11" height="2.32" fill="#fff" opacity="0.03"/>
<rect x="282.15" y="150.2" width="3.27" height="2.2" fill="#fff" opacity="0.03"/>
<rect x="281.58" y="138.41" width="3.12" height="2.15" fill="#fff" opacity="0.04"/>
<rect x="91.33" y="175.81" width="1.72" height="2.23" fill="#fff" opacity="0.02"/>
<rect x="199.45" y="229.91" width="4.14" height="2" fill="#fff" opacity="0.04"/>
<rect x="50.42" y="16.1" width="2.17" height="1.92" fill="#fff" opacity="0.02"/>
<rect x="169.86" y="210" width="2.09" height="1.34" fill="#fff" opacity="0.05"/>
<rect x="55.21" y="9.09" width="3.1" height="1.16" fill="#fff" opacity="0.02"/>
<rect x="102.43" y="139.81" width="4.15" height="1.31" fill="#fff" opacity="0.03"/>
<rect x="161.03" y="38.82" width="5.71" height="1.37" fill="#fff" opacity="0.03"/>
<rect x="72.4" y="152.1" width="5.42" height="2.17" fill="#fff" opacity="0.02"/>
<rect x="111.78" y="11.09" width="4.4" height="1.84" fill="#fff" opacity="0.02"/>
<rect x="200.94" y="108.34" width="5.72" height="2.1" fill="#fff" opacity="0.03"/>
<rect x="261.24" y="18.4" width="3.89" height="1.61" fill="#fff" opacity="0.03"/>
<rect x="63.65" y="183.75" width="1.56" height="1.83" fill="#fff" opacity="0.04"/>
<rect x="83.26" y="53.39" width="4.24" height="1.76" fill="#fff" opacity="0.03"/>
<rect x="240.17" y="47.79" width="2.89" height="1.45" fill="#fff" opacity="0.02"/>
<rect x="257.93" y="184.67" width="4.72" height="1.01" fill="#fff" opacity="0.06"/>
<rect x="224.22" y="113.18" width="4.84" height="1.68" fill="#fff" opacity="0.03"/>
<rect x="74.61" y="60.77" width="1.67" height="1.5" fill="#fff" opacity="0.03"/>
<rect x="212.52" y="198.7" width="4.7" height="1.4" fill="#fff" opacity="0.05"/>
<rect x="151.95" y="185.9" width="3.85" height="1.4" fill="#fff" opacity="0.05"/>
<rect x="275.65" y="57.32" width="5.46" height="1.02" fill="#fff" opacity="0.03"/>
<rect x="105.2" y="175.87" width="5.75" height="2.12" fill="#fff" opacity="0.02"/>
<rect x="255.78" y="82.42" width="2.58" height="2.36" fill="#fff" opacity="0.05"/>
<rect x="211.99" y="158.18" width="5.91" height="1.7" fill="#fff" opacity="0.06"/>
<rect x="213.1" y="201.44" width="3.47" height="2.09" fill="#fff" opacity="0.05"/>
<rect x="121.95" y="56.19" width="4.3" height="1.12" fill="#fff" opacity="0.04"/>
<rect x="83.81" y="14.55" width="1.98" height="2.39" fill="#fff" opacity="0.02"/>
<rect x="83.16" y="14.96" width="1.69" height="2.04" fill="#fff" opacity="0.03"/>
<rect x="212.96" y="174.28" width="1.8" height="1.89" fill="#fff" opacity="0.04"/>
<rect x="241.15" y="192.9" width="5.51" height="1.1" fill="#fff" opacity="0.06"/>
<rect x="263.79" y="220.97" width="1.98" height="1.31" fill="#fff" opacity="0.03"/>
<rect x="58.05" y="199.24" width="5.15" height="1.95" fill="#fff" opacity="0.04"/>
<rect x="197.65" y="73.16" width="1.95" height="1.15" fill="#fff" opacity="0.06"/>
<rect x="97.93" y="80.31" width="3.41" height="1.03" fill="#fff" opacity="0.02"/>
<rect x="116.07" y="169.55" width="3.16" height="1.48" fill="#fff" opacity="0.04"/>
<rect x="167.77" y="200.06" width="4.28" height="1.05" fill="#fff" opacity="0.04"/>
<rect x="152.04" y="182.43" width="3.06" height="2.06" fill="#fff" opacity="0.05"/>
<rect x="100.64" y="202.5" width="1.91" height="2.23" fill="#fff" opacity="0.02"/>
<rect x="50.3" y="53.96" width="4.93" height="2.47" fill="#fff" opacity="0.01"/>
<rect x="164.75" y="119.08" width="5.09" height="1.28" fill="#fff" opacity="0.04"/>
<rect x="131.17" y="195.66" width="2.67" height="2.42" fill="#fff" opacity="0.02"/>
<rect x="100.2" y="165.88" width="3.74" height="1.16" fill="#fff" opacity="0.03"/>
<rect x="68.91" y="185.78" width="4.64" height="2.18" fill="#fff" opacity="0.03"/>
<rect x="133.14" y="98.79" width="3.28" height="2.34" fill="#fff" opacity="0.01"/>
<rect x="257.72" y="14.16" width="2.43" height="1.39" fill="#fff" opacity="0.07"/>
<rect x="167.18" y="93.84" width="5.48" height="1.35" fill="#fff" opacity="0.04"/>
<rect x="174.28" y="178.26" width="4.89" height="1.97" fill="#fff" opacity="0.04"/>
<rect x="126.37" y="43.45" width="5.29" height="1.99" fill="#fff" opacity="0.03"/>
<rect x="89.64" y="107.23" width="4.98" height="1.87" fill="#fff" opacity="0.02"/>
<rect x="158.02" y="207.65" width="2.57" height="1.29" fill="#fff" opacity="0.04"/>
<rect x="214.4" y="198.32" width="2.2" height="1.23" fill="#fff" opacity="0.03"/>
<rect x="126.35" y="125.99" width="2.22" height="1.49" fill="#fff" opacity="0.02"/>
<rect x="277.99" y="172.46" width="1.96" height="2.44" fill="#fff" opacity="0.03"/>
<rect x="139.83" y="229.86" width="5.08" height="2.1" fill="#fff" opacity="0.03"/>
<rect x="95.87" y="152.05" width="1.98" height="1.31" fill="#fff" opacity="0.02"/>
<rect x="57.93" y="98.28" width="5.06" height="2.04" fill="#fff" opacity="0.03"/>
<rect x="197.85" y="112.74" width="2.14" height="1.91" fill="#fff" opacity="0.04"/>
<rect x="223.23" y="212.8" width="3.44" height="1.86" fill="#fff" opacity="0.06"/>
<rect x="148.47" y="59.93" width="4.75" height="2.32" fill="#fff" opacity="0.04"/>
<rect x="213.68" y="200.3" width="4.56" height="1.96" fill="#fff" opacity="0.04"/>
<rect x="123.18" y="149.86" width="1.94" height="1.63" fill="#fff" opacity="0.04"/>
<rect x="216.73" y="150.16" width="2.63" height="1.64" fill="#fff" opacity="0.04"/>
<rect x="195.32" y="100.6" width="4.54" height="2.4" fill="#fff" opacity="0.03"/>
<rect x="203.02" y="183.59" width="3.25" height="1.73" fill="#fff" opacity="0.07"/>
<rect x="58.92" y="130.76" width="2.22" height="2.17" fill="#fff" opacity="0.04"/>
<rect x="171.39" y="31.24" width="4.09" height="1.81" fill="#fff" opacity="0.06"/>
<rect x="169.75" y="152.33" width="5.23" height="1.78" fill="#fff" opacity="0.04"/>
<rect x="271.64" y="55.77" width="4.58" height="1.59" fill="#fff" opacity="0.06"/>
<rect x="78.62" y="230.01" width="3.1" height="1.08" fill="#fff" opacity="0.02"/>
<rect x="143.45" y="11.49" width="3.38" height="1.63" fill="#fff" opacity="0.03"/>
<rect x="132.33" y="68.16" width="2.51" height="2.11" fill="#fff" opacity="0.04"/>
<rect x="173.23" y="57.76" width="5.11" height="1.59" fill="#fff" opacity="0.03"/>
<rect x="80.23" y="183.24" width="5.14" height="1.95" fill="#fff" opacity="0.03"/>
<rect x="181.41" y="59.35" width="5.84" height="1.53" fill="#fff" opacity="0.05"/>
<rect x="241.42" y="192.14" width="3.61" height="1.44" fill="#fff" opacity="0.05"/>
<rect x="79.26" y="196.09" width="3.1" height="2.28" fill="#fff" opacity="0.02"/>
<rect x="137.94" y="65.55" width="3.42" height="1.28" fill="#fff" opacity="0.01"/>
<rect x="218.75" y="71.77" width="2.6" height="1.45" fill="#fff" opacity="0.04"/>
<rect x="150.18" y="151.89" width="4.47" height="1.54" fill="#fff" opacity="0.07"/>
<rect x="249.77" y="21.34" width="5.23" height="2.36" fill="#fff" opacity="0.06"/>
<rect x="82.83" y="195.55" width="4.35" height="1.02" fill="#fff" opacity="0.01"/>
<rect x="272.52" y="156.09" width="2.63" height="1.15" fill="#fff" opacity="0.03"/>
<rect x="104.63" y="183.17" width="3.06" height="1.23" fill="#fff" opacity="0.04"/>
<rect x="235.09" y="46.28" width="5.51" height="1.91" fill="#fff" opacity="0.06"/>
<rect x="206.29" y="209.63" width="5.05" height="2.26" fill="#fff" opacity="0.03"/>
<rect x="211.97" y="127.93" width="4.84" height="1.66" fill="#fff" opacity="0.06"/>
<rect x="179.77" y="68.01" width="2.55" height="1.21" fill="#fff" opacity="0.04"/>
<rect x="63.67" y="113.6" width="2.15" height="1.74" fill="#fff" opacity="0.03"/>
<rect x="176.15" y="202.65" width="1.53" height="2.26" fill="#fff" opacity="0.04"/>
<rect x="181.53" y="158.19" width="5.28" height="1.56" fill="#fff" opacity="0.04"/>
<rect x="274.59" y="25.46" width="4.37" height="1.95" fill="#fff" opacity="0.02"/>
<rect x="192.54" y="162.08" width="5.69" height="1.5" fill="#fff" opacity="0.07"/>
<rect x="169.38" y="117.55" width="5.54" height="1.05" fill="#fff" opacity="0.06"/>
<rect x="196.19" y="84.69" width="5.38" height="1.55" fill="#fff" opacity="0.04"/>
<rect x="172.87" y="181.88" width="2.45" height="1.65" fill="#fff" opacity="0.04"/>
<rect x="179.53" y="194.51" width="2.82" height="2.24" fill="#fff" opacity="0.04"/>
<rect x="167.78" y="69.63" width="3.78" height="2.46" fill="#fff" opacity="0.05"/>
<rect x="235.16" y="82.95" width="2.93" height="1.45" fill="#fff" opacity="0.05"/>
<rect x="198.42" y="184.95" width="1.68" height="2.08" fill="#fff" opacity="0.06"/>
<rect x="177.51" y="19.68" width="2.85" height="1.01" fill="#fff" opacity="0.03"/>
<rect x="265.43" y="145.45" width="4.46" height="2.18" fill="#fff" opacity="0.07"/>
<rect x="193.02" y="147.26" width="4.32" height="2.04" fill="#fff" opacity="0.05"/>
<rect x="209.21" y="56.31" width="4.5" height="1.69" fill="#fff" opacity="0.06"/>
<rect x="73.7" y="49.29" width="1.67" height="2.16" fill="#fff" opacity="0.04"/>
<rect x="203.31" y="91.5" width="5.2" height="2.18" fill="#fff" opacity="0.05"/>
<rect x="110.32" y="76.46" width="3.4" height="1.48" fill="#fff" opacity="0.02"/>
<rect x="200.04" y="218.62" width="1.75" height="1.85" fill="#fff" opacity="0.02"/>
<rect x="77.79" y="190.82" width="4.09" height="2.38" fill="#fff" opacity="0.03"/>
<rect x="53.3" y="95.61" width="4.16" height="2.41" fill="#fff" opacity="0.04"/>
<rect x="161.16" y="101.29" width="1.96" height="1.97" fill="#fff" opacity="0.03"/>
<rect x="85.48" y="11.99" width="1.52" height="2.03" fill="#fff" opacity="0.02"/>
<rect x="275.93" y="28.33" width="5.41" height="1.19" fill="#fff" opacity="0.02"/>
<rect x="218.18" y="63.01" width="4.8" height="1.28" fill="#fff" opacity="0.02"/>
<rect x="230.97" y="169.05" width="5.35" height="2.09" fill="#fff" opacity="0.02"/>
<rect x="196.97" y="168.08" width="3.57" height="2.4" fill="#fff" opacity="0.03"/>
<rect x="275.46" y="169.87" width="1.55" height="1.02" fill="#fff" opacity="0.05"/>
<rect x="241.09" y="26.43" width="2.9" height="2.09" fill="#fff" opacity="0.03"/>
<rect x="251.29" y="117.92" width="1.77" height="1.55" fill="#fff" opacity="0.05"/>
<rect x="152.57" y="160.8" width="2.15" height="2.2" fill="#fff" opacity="0.04"/>
<rect x="200.77" y="150.18" width="3.38" height="1.58" fill="#fff" opacity="0.06"/>
<rect x="270.92" y="185.04" width="4.05" height="1.44" fill="#fff" opacity="0.02"/>
<rect x="277.71" y="166.73" width="5.22" height="1.5" fill="#fff" opacity="0.05"/>
<rect x="278.53" y="195.54" width="4.21" height="1.46" fill="#fff" opacity="0.04"/>
<rect x="257.64" y="93.25" width="4.58" height="1.9" fill="#fff" opacity="0.06"/>
<rect x="238.79" y="72.24" width="1.51" height="1.39" fill="#fff" opacity="0.04"/>
<rect x="187.16" y="192.1" width="5.49" height="1.06" fill="#fff" opacity="0.06"/>
<rect x="239.79" y="203.62" width="4.07" height="1.41" fill="#fff" opacity="0.06"/>
<rect x="238.68" y="162.54" width="5.61" height="1.52" fill="#fff" opacity="0.02"/>
<rect x="179.45" y="187.91" width="2.4" height="2.13" fill="#fff" opacity="0.07"/>
<rect x="104.72" y="145.05" width="4.55" height="1.7" fill="#fff" opacity="0.02"/>
<rect x="109.56" y="177.51" width="5.06" height="1.69" fill="#fff" opacity="0.01"/>
<rect x="238.58" y="182.24" width="2.55" height="1.87" fill="#fff" opacity="0.06"/>
<rect x="66.32" y="143.34" width="20.44" height="1.2" fill="#fff" opacity="0.08"/>
<rect x="70.28" y="102.97" width="13.85" height="1.2" fill="#fff" opacity="0.06"/>
<rect x="65.46" y="113.04" width="21.29" height="1.2" fill="#fff" opacity="0.08"/>
<rect x="69.8" y="100.64" width="10.89" height="1.2" fill="#fff" opacity="0.13"/>
<rect x="62.61" y="98.15" width="22.65" height="1.2" fill="#fff" opacity="0.11"/>
<rect x="64.67" y="126.64" width="16.9" height="1.2" fill="#fff" opacity="0.09"/>
<rect x="61.01" y="93.95" width="29.81" height="1.2" fill="#fff" opacity="0.12"/>
<rect x="67.94" y="124.9" width="15.23" height="1.2" fill="#fff" opacity="0.11"/>
<rect x="66.11" y="146.9" width="25.34" height="1.2" fill="#fff" opacity="0.11"/>
<rect x="68.71" y="106.73" width="10.76" height="1.2" fill="#fff" opacity="0.06"/>
<rect x="72.71" y="96.85" width="11.02" height="1.2" fill="#fff" opacity="0.09"/>
<rect x="58.91" y="118.58" width="28.94" height="1.2" fill="#fff" opacity="0.12"/>
<rect x="69.78" y="126.69" width="17.95" height="1.2" fill="#fff" opacity="0.05"/>
<rect x="68.09" y="106.92" width="21.29" height="1.2" fill="#fff" opacity="0.1"/>
<rect x="65.03" y="130.84" width="17.86" height="1.2" fill="#fff" opacity="0.08"/>
<rect x="58.31" y="148.01" width="29.83" height="1.2" fill="#fff" opacity="0.06"/>
<rect x="69.91" y="106.84" width="17.04" height="1.2" fill="#fff" opacity="0.12"/>
<rect x="71.79" y="140.56" width="10.94" height="1.2" fill="#fff" opacity="0.11"/>
<rect x="59.01" y="129.51" width="29.71" height="1.2" fill="#fff" opacity="0.05"/>
<rect x="60.4" y="135.79" width="28.79" height="1.2" fill="#fff" opacity="0.1"/>
<rect x="62.36" y="126.3" width="25.16" height="1.2" fill="#fff" opacity="0.05"/>
<rect x="67.77" y="106.91" width="12.48" height="1.2" fill="#fff" opacity="0.08"/>
<rect x="66.64" y="105.83" width="12.86" height="1.2" fill="#fff" opacity="0.1"/>
<rect x="71.62" y="133.6" width="13.9" height="1.2" fill="#fff" opacity="0.04"/>
<rect x="63.99" y="104.79" width="28.68" height="1.2" fill="#fff" opacity="0.12"/>
<rect x="69.1" y="100.11" width="18.94" height="1.2" fill="#fff" opacity="0.05"/>
<rect x="63.75" y="140.85" width="22.57" height="1.2" fill="#fff" opacity="0.08"/>
<rect x="64.08" y="139.74" width="19.55" height="1.2" fill="#fff" opacity="0.1"/>
<rect x="70.75" y="104.86" width="11.13" height="1.2" fill="#fff" opacity="0.1"/>
<rect x="61.76" y="100.39" width="27.41" height="1.2" fill="#fff" opacity="0.06"/>
<rect x="67.3" y="101.03" width="15.42" height="1.2" fill="#fff" opacity="0.12"/>
<rect x="68.51" y="101.73" width="19.82" height="1.2" fill="#fff" opacity="0.07"/>
<rect x="63.58" y="98.62" width="29.57" height="1.2" fill="#fff" opacity="0.05"/>
<rect x="67.61" y="130.76" width="14.22" height="1.2" fill="#fff" opacity="0.08"/>
<rect x="71.93" y="106.95" width="14.03" height="1.2" fill="#fff" opacity="0.07"/>
<rect x="60.49" y="149.89" width="28.5" height="1.2" fill="#fff" opacity="0.05"/>
<rect x="69.19" y="143.98" width="11.15" height="1.2" fill="#fff" opacity="0.11"/>
<rect x="69.89" y="148.76" width="10.32" height="1.2" fill="#fff" opacity="0.11"/>
<rect x="71.14" y="100.13" width="10.04" height="1.2" fill="#fff" opacity="0.11"/>
<rect x="64.96" y="102.78" width="18.7" height="1.2" fill="#fff" opacity="0.12"/>
<rect x="100.29" y="143.42" width="11.66" height="1.2" fill="#fff" opacity="0.05"/>
<rect x="95.84" y="157.03" width="12.36" height="1.2" fill="#fff" opacity="0.05"/>
<rect x="94.76" y="147.03" width="15.95" height="1.2" fill="#fff" opacity="0.06"/>
<rect x="95.75" y="147.41" width="18.49" height="1.2" fill="#fff" opacity="0.1"/>
<rect x="98.55" y="107.62" width="10.79" height="1.2" fill="#fff" opacity="0.1"/>
<rect x="98.18" y="158" width="10.66" height="1.2" fill="#fff" opacity="0.1"/>
<rect x="91.41" y="169.67" width="20.37" height="1.2" fill="#fff" opacity="0.08"/>
<rect x="95.24" y="176.29" width="15.72" height="1.2" fill="#fff" opacity="0.11"/>
<rect x="92.49" y="106.05" width="19.98" height="1.2" fill="#fff" opacity="0.07"/>
<rect x="96.05" y="124" width="17.14" height="1.2" fill="#fff" opacity="0.04"/>
<rect x="97.69" y="131.24" width="16.19" height="1.2" fill="#fff" opacity="0.05"/>
<rect x="95.57" y="167.2" width="20.39" height="1.2" fill="#fff" opacity="0.07"/>
<rect x="97.23" y="124.99" width="19.02" height="1.2" fill="#fff" opacity="0.04"/>
<rect x="96.71" y="180.54" width="15.94" height="1.2" fill="#fff" opacity="0.08"/>
<rect x="97.72" y="140.12" width="10.25" height="1.2" fill="#fff" opacity="0.12"/>
<rect x="100.79" y="105.69" width="11.23" height="1.2" fill="#fff" opacity="0.06"/>
<rect x="97.09" y="90.92" width="11.16" height="1.2" fill="#fff" opacity="0.1"/>
<rect x="96.04" y="89.72" width="17.19" height="1.2" fill="#fff" opacity="0.09"/>
<rect x="100.19" y="156.16" width="11.23" height="1.2" fill="#fff" opacity="0.11"/>
<rect x="98.77" y="92.38" width="11.48" height="1.2" fill="#fff" opacity="0.08"/>
<rect x="96.59" y="115.12" width="11.46" height="1.2" fill="#fff" opacity="0.07"/>
<rect x="94.77" y="145.41" width="20.33" height="1.2" fill="#fff" opacity="0.05"/>
<rect x="101.14" y="160.42" width="11.97" height="1.2" fill="#fff" opacity="0.11"/>
<rect x="97.13" y="125.71" width="15.05" height="1.2" fill="#fff" opacity="0.11"/>
<rect x="92.88" y="126.38" width="21.3" height="1.2" fill="#fff" opacity="0.1"/>
<rect x="100.38" y="111.32" width="14.02" height="1.2" fill="#fff" opacity="0.07"/>
<rect x="96.11" y="166.02" width="20.95" height="1.2" fill="#fff" opacity="0.11"/>
<rect x="99" y="93.19" width="16.21" height="1.2" fill="#fff" opacity="0.12"/>
<rect x="96.15" y="112.18" width="15.07" height="1.2" fill="#fff" opacity="0.09"/>
<rect x="99.11" y="139.49" width="10.83" height="1.2" fill="#fff" opacity="0.07"/>
<rect x="100.32" y="90.02" width="11.67" height="1.2" fill="#fff" opacity="0.12"/>
<rect x="98.01" y="178.88" width="17.6" height="1.2" fill="#fff" opacity="0.1"/>
<rect x="97.89" y="173.81" width="10.41" height="1.2" fill="#fff" opacity="0.09"/>
<rect x="100.41" y="153.81" width="13.28" height="1.2" fill="#fff" opacity="0.08"/>
<rect x="97.6" y="148.26" width="13.01" height="1.2" fill="#fff" opacity="0.08"/>
<rect x="98.66" y="180.23" width="13.45" height="1.2" fill="#fff" opacity="0.06"/>
<rect x="96.02" y="99.68" width="17.13" height="1.2" fill="#fff" opacity="0.12"/>
<rect x="94.59" y="114.04" width="15.6" height="1.2" fill="#fff" opacity="0.08"/>
<rect x="98.15" y="100.02" width="11.58" height="1.2" fill="#fff" opacity="0.06"/>
<rect x="98.32" y="115.97" width="12.92" height="1.2" fill="#fff" opacity="0.05"/>
<rect x="132.19" y="141.99" width="25.42" height="1.2" fill="#fff" opacity="0.1"/>
<rect x="130.47" y="110.06" width="27.63" height="1.2" fill="#fff" opacity="0.09"/>
<rect x="131.29" y="130.64" width="22.32" height="1.2" fill="#fff" opacity="0.07"/>
<rect x="132.88" y="111.08" width="23.27" height="1.2" fill="#fff" opacity="0.08"/>
<rect x="132.55" y="100.59" width="19.76" height="1.2" fill="#fff" opacity="0.13"/>
<rect x="135.52" y="127.83" width="22.81" height="1.2" fill="#fff" opacity="0.07"/>
<rect x="126.91" y="114.78" width="28.99" height="1.2" fill="#fff" opacity="0.06"/>
<rect x="132.49" y="143.56" width="21.68" height="1.2" fill="#fff" opacity="0.05"/>
<rect x="128.26" y="121.99" width="28.18" height="1.2" fill="#fff" opacity="0.05"/>
<rect x="128.9" y="147.97" width="28.25" height="1.2" fill="#fff" opacity="0.06"/>
<rect x="132.67" y="117.62" width="26.86" height="1.2" fill="#fff" opacity="0.1"/>
<rect x="133.76" y="141.06" width="23.39" height="1.2" fill="#fff" opacity="0.11"/>
<rect x="134.02" y="137.98" width="22.46" height="1.2" fill="#fff" opacity="0.12"/>
<rect x="133.63" y="145.74" width="14.8" height="1.2" fill="#fff" opacity="0.13"/>
<rect x="134.33" y="138.28" width="24.89" height="1.2" fill="#fff" opacity="0.09"/>
<rect x="135.64" y="128.6" width="21.19" height="1.2" fill="#fff" opacity="0.12"/>
<rect x="133.57" y="130.37" width="20.35" height="1.2" fill="#fff" opacity="0.09"/>
<rect x="135.11" y="136.15" width="18.44" height="1.2" fill="#fff" opacity="0.08"/>
<rect x="136.56" y="119.23" width="19.08" height="1.2" fill="#fff" opacity="0.12"/>
<rect x="131.94" y="124.98" width="21.77" height="1.2" fill="#fff" opacity="0.06"/>
<rect x="129.2" y="107.25" width="24.66" height="1.2" fill="#fff" opacity="0.1"/>
<rect x="136.47" y="146.01" width="19.13" height="1.2" fill="#fff" opacity="0.12"/>
<rect x="138.22" y="147.94" width="16.49" height="1.2" fill="#fff" opacity="0.08"/>
<rect x="137.46" y="100.53" width="13.04" height="1.2" fill="#fff" opacity="0.1"/>
<rect x="132.48" y="146.02" width="29.02" height="1.2" fill="#fff" opacity="0.09"/>
<rect x="131.65" y="125.87" width="23.38" height="1.2" fill="#fff" opacity="0.11"/>
<rect x="134.15" y="117.89" width="25.08" height="1.2" fill="#fff" opacity="0.08"/>
<rect x="131.47" y="133.82" width="23.56" height="1.2" fill="#fff" opacity="0.05"/>
<rect x="134.1" y="120.04" width="24.35" height="1.2" fill="#fff" opacity="0.1"/>
<rect x="133.39" y="148.22" width="22.71" height="1.2" fill="#fff" opacity="0.08"/>
<rect x="136.12" y="149.81" width="19.55" height="1.2" fill="#fff" opacity="0.09"/>
<rect x="136.46" y="108.54" width="19" height="1.2" fill="#fff" opacity="0.14"/>
<rect x="137.92" y="125.63" width="14.43" height="1.2" fill="#fff" opacity="0.13"/>
<rect x="126.63" y="141.03" width="33.79" height="1.2" fill="#fff" opacity="0.13"/>
<rect x="134.84" y="107.82" width="18.38" height="1.2" fill="#fff" opacity="0.09"/>
<rect x="136.61" y="109.41" width="16.01" height="1.2" fill="#fff" opacity="0.1"/>
<rect x="124.32" y="117.66" width="33.86" height="1.2" fill="#fff" opacity="0.1"/>
<rect x="130.48" y="120.57" width="29.33" height="1.2" fill="#fff" opacity="0.07"/>
<rect x="135.17" y="100.2" width="18.7" height="1.2" fill="#fff" opacity="0.12"/>
<rect x="136.16" y="133.41" width="16.33" height="1.2" fill="#fff" opacity="0.09"/>
<rect x="65.98" y="169.19" width="26" height="1.2" fill="#fff" opacity="0.13"/>
<rect x="62.95" y="172.89" width="21.99" height="1.2" fill="#fff" opacity="0.08"/>
<rect x="65.62" y="175.11" width="16.81" height="1.2" fill="#fff" opacity="0.07"/>
<rect x="63.34" y="172.27" width="28.99" height="1.2" fill="#fff" opacity="0.15"/>
<rect x="67.33" y="166.75" width="15.21" height="1.2" fill="#fff" opacity="0.17"/>
<rect x="64.09" y="174.59" width="21.02" height="1.2" fill="#fff" opacity="0.08"/>
<rect x="59.91" y="167.19" width="30.37" height="1.2" fill="#fff" opacity="0.14"/>
<rect x="67.57" y="171.4" width="21.56" height="1.2" fill="#fff" opacity="0.07"/>
<rect x="61.06" y="172.99" width="31.31" height="1.2" fill="#fff" opacity="0.12"/>
<rect x="70.25" y="168.99" width="15.75" height="1.2" fill="#fff" opacity="0.19"/>
<rect x="59.68" y="169.78" width="30.28" height="1.2" fill="#fff" opacity="0.17"/>
<rect x="63.04" y="173.23" width="31.32" height="1.2" fill="#fff" opacity="0.13"/>
<rect x="124.6" y="170.43" width="17.46" height="1.2" fill="#fff" opacity="0.16"/>
<rect x="124.63" y="171.09" width="24.25" height="1.2" fill="#fff" opacity="0.13"/>
<rect x="125.91" y="170.43" width="14.43" height="1.2" fill="#fff" opacity="0.11"/>
<rect x="124.65" y="177.72" width="16.07" height="1.2" fill="#fff" opacity="0.14"/>
<rect x="123.69" y="173.34" width="17.4" height="1.2" fill="#fff" opacity="0.12"/>
<rect x="121.69" y="169.23" width="23.56" height="1.2" fill="#fff" opacity="0.11"/>
<rect x="124.22" y="169.91" width="15.97" height="1.2" fill="#fff" opacity="0.09"/>
<rect x="127.85" y="174.64" width="16.78" height="1.2" fill="#fff" opacity="0.08"/>
<rect x="142.15" y="63.71" width="11.24" height="1.2" fill="#fff" opacity="0.09"/>
<rect x="138.94" y="77.73" width="18.04" height="1.2" fill="#fff" opacity="0.09"/>
<rect x="144.42" y="74.12" width="16.67" height="1.2" fill="#fff" opacity="0.06"/>
<rect x="138.66" y="68.32" width="19.41" height="1.2" fill="#fff" opacity="0.07"/>
<rect x="143.78" y="78.11" width="9.57" height="1.2" fill="#fff" opacity="0.08"/>
<rect x="140.95" y="95.98" width="15.05" height="1.2" fill="#fff" opacity="0.06"/>
<rect x="142.46" y="84.33" width="10.55" height="1.2" fill="#fff" opacity="0.09"/>
<rect x="144.37" y="80.52" width="14.51" height="1.2" fill="#fff" opacity="0.05"/>
<rect x="140.92" y="75.39" width="15.89" height="1.2" fill="#fff" opacity="0.07"/>
<rect x="147.59" y="75.6" width="9.03" height="1.2" fill="#fff" opacity="0.04"/>
</g>
<line x1="67.5" y1="5" x2="49" y2="42" stroke="#fff" stroke-width="2.6" opacity="0.28"/>
<line x1="67.5" y1="5" x2="49" y2="42" stroke="#fff" stroke-width="0.9" opacity="0.3"/>
<ellipse cx="105.5" cy="25.2" rx="14.04" ry="5.72" fill="url(#g150)"/>
<rect x="98.5" y="82" width="12" height="92" fill="#fff" opacity="0.21" filter="url(#bf0)"/>
<ellipse cx="105" cy="70.9" rx="12.48" ry="22.1" fill="url(#g114)"/>
<ellipse cx="105" cy="170" rx="7" ry="8" fill="#fff" opacity="0.26" filter="url(#bf1)"/>
<ellipse cx="101.5" cy="168" rx="6.76" ry="9.1" fill="url(#g44)"/>
<rect x="133" y="69" width="18" height="25" rx="6" fill="#fff" opacity="0.47" filter="url(#bf2)"/>
<ellipse cx="150" cy="68.5" rx="7" ry="3" fill="#fff" opacity="0.28" filter="url(#bf3)"/>
<ellipse cx="142.2" cy="80" rx="9.36" ry="11.44" fill="url(#g120)" transform="rotate(-30 142.2 80)"/>
<rect x="131" y="103" width="26" height="44" fill="#fff" opacity="0.2" filter="url(#bf4)"/>
<ellipse cx="142.5" cy="123" rx="7.8" ry="9.1" fill="url(#g42)"/>
<ellipse cx="133" cy="172" rx="9" ry="9" fill="#fff" opacity="0.24" filter="url(#bf2)"/>
<ellipse cx="131.8" cy="172.7" rx="9.1" ry="5.98" fill="url(#g45)"/>
<ellipse cx="158.1" cy="167.9" rx="6.5" ry="6.5" fill="url(#g28)"/>
<rect x="67" y="92" width="18" height="58" fill="#fff" opacity="0.17" filter="url(#bf4)"/>
<ellipse cx="76" cy="141" rx="7.8" ry="7.8" fill="url(#g30)"/>
<ellipse cx="76" cy="173" rx="12" ry="3" fill="#fff" opacity="0.22" filter="url(#bf5)"/>
<ellipse cx="76" cy="173" rx="7.8" ry="5.2" fill="url(#g36)"/>
<ellipse cx="75.5" cy="207" rx="5" ry="11" fill="#fff" opacity="0.3" filter="url(#bf1)"/>
<ellipse cx="75.5" cy="210" rx="6.5" ry="13" fill="url(#g50)"/>
<ellipse cx="201.4" cy="25.5" rx="13" ry="3.12" fill="url(#g22)"/>
<ellipse cx="201.4" cy="67" rx="7.8" ry="7.8" fill="url(#g15)"/>
<ellipse cx="199" cy="75" rx="10.4" ry="5.2" fill="url(#g12)"/>
<ellipse cx="166.4" cy="91" rx="7.8" ry="7.8" fill="url(#g16)"/>
<ellipse cx="168.9" cy="108.9" rx="7.8" ry="7.8" fill="url(#g14)"/>
<ellipse cx="210.8" cy="108.9" rx="6.5" ry="6.5" fill="url(#g15)"/>
</g>
</g>
<rect x="73.2" y="8.5" width="4.8" height="225.0" fill="#000020" opacity="0.38"/>
<rect x="121.0" y="8.5" width="4.2" height="225.0" fill="#000020" opacity="0.38"/>
<rect x="140.8" y="8.5" width="4.6" height="225.0" fill="#000020" opacity="0.38"/>
<line x1="104.5" y1="-8.000000000000002" x2="104.5" y2="233.5" stroke="#c81e10" stroke-width="4.3" stroke-dasharray="12 5.1" opacity="0.52"/>
<line x1="201.4" y1="-8.000000000000002" x2="201.4" y2="233.5" stroke="#c81e10" stroke-width="4.3" stroke-dasharray="12 5.1" opacity="0.52"/>
<line x1="50" y1="24.6" x2="216" y2="24.6" stroke="#ff0000" stroke-width="0.9" opacity="0.45"/>
<line x1="50.0" y1="48.7" x2="175.4" y2="48.7" stroke="#e0e0ff" stroke-width="1.4" stroke-dasharray="1.1 0.85" opacity="0.72"/>
<line x1="50.0" y1="72.2" x2="175.4" y2="72.2" stroke="#e0e0ff" stroke-width="1.4" stroke-dasharray="1.1 0.85" opacity="0.72"/>
<line x1="50.0" y1="81.1" x2="175.4" y2="81.1" stroke="#e0e0ff" stroke-width="1.4" stroke-dasharray="1.1 0.85" opacity="0.72"/>
<line x1="50.0" y1="211.2" x2="175.4" y2="211.2" stroke="#e0e0ff" stroke-width="1.4" stroke-dasharray="1.1 0.85" opacity="0.72"/>
</g>
<rect x="49.5" y="8.0" width="234.8" height="226.0" fill="none" stroke="#111" stroke-width="1"/>
<line x1="231.3" y1="25.3" x2="247" y2="25.3" stroke="#ff1010" stroke-width="2" />
<polygon points="226.3,25.3 233.3,21.8 233.3,28.8" fill="#ff1010"/>
<line x1="224" y1="48.3" x2="239.5" y2="48.3" stroke="#fff" stroke-width="2" />
<polygon points="219,48.3 226,44.8 226,51.8" fill="#fff"/>
<line x1="224" y1="71.8" x2="239.5" y2="71.8" stroke="#fff" stroke-width="2" stroke-dasharray="2.5 2"/>
<polygon points="219,71.8 226,68.3 226,75.3" fill="#fff"/>
<line x1="224" y1="81.1" x2="239.5" y2="81.1" stroke="#fff" stroke-width="2" />
<polygon points="219,81.1 226,77.6 226,84.6" fill="#fff"/>
<line x1="224" y1="210.7" x2="239.5" y2="210.7" stroke="#fff" stroke-width="2" />
<polygon points="219,210.7 226,207.2 226,214.2" fill="#fff"/>
<text transform="translate(253.77,32.39) scale(0.7611,0.9734)" font-size="18" text-anchor="start" fill="#ff1010" color="#ff1010" font-weight="normal" >Eu1</text>
<text transform="translate(246.39,55.34) scale(0.7858,0.9793)" font-size="18" text-anchor="start" fill="#fff" color="#fff" font-weight="normal" >Eu2</text>
<text transform="translate(246.43,71.73) scale(0.7288,0.8479)" font-size="13.5" text-anchor="start" fill="#fff" color="#fff" font-weight="normal" >(EuX)</text>
<text transform="translate(246.34,87.7) scale(0.7973,0.9715)" font-size="18" text-anchor="start" fill="#fff" color="#fff" font-weight="normal" >EuY</text>
<text transform="translate(246.18,216.91) scale(0.8171,0.9568)" font-size="18" text-anchor="start" fill="#fff" color="#fff" font-weight="normal" >Eu18</text>
<line x1="47.3" y1="233.98" x2="49.5" y2="233.98" stroke="#000" stroke-width="1" />
<line x1="45.3" y1="215.2" x2="49.5" y2="215.2" stroke="#000" stroke-width="1" />
<text transform="translate(41.51,217.93) scale(1.0102,0.9579)" font-size="12.3" text-anchor="end" fill="#000" color="#000" font-weight="normal" >574</text>
<line x1="47.3" y1="196.42" x2="49.5" y2="196.42" stroke="#000" stroke-width="1" />
<line x1="45.3" y1="177.64" x2="49.5" y2="177.64" stroke="#000" stroke-width="1" />
<text transform="translate(41.51,180.37) scale(1.0102,0.9579)" font-size="12.3" text-anchor="end" fill="#000" color="#000" font-weight="normal" >576</text>
<line x1="47.3" y1="158.86" x2="49.5" y2="158.86" stroke="#000" stroke-width="1" />
<line x1="45.3" y1="140.08" x2="49.5" y2="140.08" stroke="#000" stroke-width="1" />
<text transform="translate(41.51,142.81) scale(1.0102,0.9579)" font-size="12.3" text-anchor="end" fill="#000" color="#000" font-weight="normal" >578</text>
<line x1="47.3" y1="121.3" x2="49.5" y2="121.3" stroke="#000" stroke-width="1" />
<line x1="45.3" y1="102.52" x2="49.5" y2="102.52" stroke="#000" stroke-width="1" />
<text transform="translate(41.51,105.25) scale(1.0102,0.9579)" font-size="12.3" text-anchor="end" fill="#000" color="#000" font-weight="normal" >580</text>
<line x1="47.3" y1="83.74" x2="49.5" y2="83.74" stroke="#000" stroke-width="1" />
<line x1="45.3" y1="64.96" x2="49.5" y2="64.96" stroke="#000" stroke-width="1" />
<text transform="translate(41.51,67.69) scale(1.0102,0.9579)" font-size="12.3" text-anchor="end" fill="#000" color="#000" font-weight="normal" >582</text>
<line x1="47.3" y1="46.18" x2="49.5" y2="46.18" stroke="#000" stroke-width="1" />
<line x1="45.3" y1="27.4" x2="49.5" y2="27.4" stroke="#000" stroke-width="1" />
<text transform="translate(41.51,30.13) scale(1.0102,0.9579)" font-size="12.3" text-anchor="end" fill="#000" color="#000" font-weight="normal" >584</text>
<line x1="47.3" y1="8.62" x2="49.5" y2="8.62" stroke="#000" stroke-width="1" />
<line x1="50.4" y1="234" x2="50.4" y2="237.5" stroke="#000" stroke-width="1" />
<text transform="translate(50.47,250.09) scale(0.9583,0.9475)" font-size="12.6" text-anchor="middle" fill="#000" color="#000" font-weight="normal" >610</text>
<line x1="65.96" y1="234" x2="65.96" y2="236" stroke="#000" stroke-width="1" />
<line x1="81.52" y1="234" x2="81.52" y2="236" stroke="#000" stroke-width="1" />
<line x1="97.08" y1="234" x2="97.08" y2="236" stroke="#000" stroke-width="1" />
<line x1="112.64" y1="234" x2="112.64" y2="236" stroke="#000" stroke-width="1" />
<line x1="128.2" y1="234" x2="128.2" y2="237.5" stroke="#000" stroke-width="1" />
<text transform="translate(128.27,250.09) scale(0.9583,0.9475)" font-size="12.6" text-anchor="middle" fill="#000" color="#000" font-weight="normal" >620</text>
<line x1="143.76" y1="234" x2="143.76" y2="236" stroke="#000" stroke-width="1" />
<line x1="159.32" y1="234" x2="159.32" y2="236" stroke="#000" stroke-width="1" />
<line x1="174.88" y1="234" x2="174.88" y2="236" stroke="#000" stroke-width="1" />
<line x1="190.44" y1="234" x2="190.44" y2="236" stroke="#000" stroke-width="1" />
<line x1="206" y1="234" x2="206" y2="237.5" stroke="#000" stroke-width="1" />
<text transform="translate(206.07,250.09) scale(0.9583,0.9475)" font-size="12.6" text-anchor="middle" fill="#000" color="#000" font-weight="normal" >630</text>
<line x1="221.56" y1="234" x2="221.56" y2="236" stroke="#000" stroke-width="1" />
<line x1="237.12" y1="234" x2="237.12" y2="236" stroke="#000" stroke-width="1" />
<line x1="252.68" y1="234" x2="252.68" y2="236" stroke="#000" stroke-width="1" />
<line x1="268.24" y1="234" x2="268.24" y2="236" stroke="#000" stroke-width="1" />
<line x1="283.8" y1="234" x2="283.8" y2="237.5" stroke="#000" stroke-width="1" />
<text transform="translate(283.87,250.09) scale(0.9583,0.9475)" font-size="12.6" text-anchor="middle" fill="#000" color="#000" font-weight="normal" >640</text>
<text transform="translate(74.64,266.55) scale(1.0187,1.0215)" font-size="16" text-anchor="start" fill="#000" color="#000" font-weight="normal" >Emission wavelength (nm)</text>
<text transform="translate(12.62,219.96) rotate(-90) scale(0.9950,0.9361)" font-size="16.5" text-anchor="start" fill="#000" color="#000" font-weight="normal" >Excitation wavelength (nm)</text>
<text transform="translate(13.87,12.32) scale(1.0424,1.0599)" font-size="15.2" text-anchor="start" fill="#000" color="#000" font-weight="normal" >(a)</text>
<rect x="289.2" y="9.3" width="14.6" height="225.3" fill="url(#cbar)" stroke="#222" stroke-width="0.9"/>
<line x1="303.8" y1="230.1" x2="308" y2="230.1" stroke="#555" stroke-width="1" />
<text transform="translate(311.88,231.6) scale(0.8530,1.0536)" font-size="8.8" text-anchor="start" fill="#222" color="#222" font-weight="normal" >0</text>
<line x1="303.8" y1="202.9" x2="307.5" y2="202.9" stroke="#555" stroke-width="1" />
<line x1="303.8" y1="175.7" x2="308" y2="175.7" stroke="#555" stroke-width="1" />
<text transform="translate(311.88,177.75) scale(0.8530,1.0536)" font-size="8.8" text-anchor="start" fill="#222" color="#222" font-weight="normal" >5000</text>
<line x1="303.8" y1="148.55" x2="307.5" y2="148.55" stroke="#555" stroke-width="1" />
<line x1="303.8" y1="121.4" x2="308" y2="121.4" stroke="#555" stroke-width="1" />
<text transform="translate(311.88,124.75) scale(0.8530,1.0536)" font-size="8.8" text-anchor="start" fill="#222" color="#222" font-weight="normal" >10000</text>
<line x1="303.8" y1="94.45" x2="307.5" y2="94.45" stroke="#555" stroke-width="1" />
<line x1="303.8" y1="67.5" x2="308" y2="67.5" stroke="#555" stroke-width="1" />
<text transform="translate(311.88,71.75) scale(0.8530,1.0536)" font-size="8.8" text-anchor="start" fill="#222" color="#222" font-weight="normal" >15000</text>
<line x1="303.8" y1="40.55" x2="307.5" y2="40.55" stroke="#555" stroke-width="1" />
<line x1="303.8" y1="13.6" x2="308" y2="13.6" stroke="#555" stroke-width="1" />
<text transform="translate(311.88,18.65) scale(0.8530,1.0536)" font-size="8.8" text-anchor="start" fill="#222" color="#222" font-weight="normal" >20000</text>
<clipPath id="clipB1"><rect x="74" y="277" width="200" height="64.2"/></clipPath>
<polyline points="74.4,331.5 74.95,336.87 75.5,336.75 76.05,335.59 76.6,333.13 77.15,334.3 77.7,339.45 78.25,337.87 78.8,336.58 79.35,337.68 79.9,338.86 80.45,335.83 81,338.34 81.55,338.85 82.1,338.14 82.65,334.43 83.2,334.58 83.75,332.77 84.3,339.36 84.85,338.72 85.4,334.72 85.95,327.98 86.5,334.91 87.05,339.3 87.6,332.22 88.15,339.12 88.7,338.45 89.25,335.72 89.8,328.85 90.35,338.64 90.9,334.57 91.45,339.6 92,337.55 92.55,335.91 93.1,339.4 93.65,331.66 94.2,337.32 94.75,336.61 95.3,333.79 95.85,337.16 96.4,334.47 96.95,333.63 97.5,337.77 98.05,337.18 98.6,335.12 99.15,327.02 99.7,329.56 100.25,337.46 100.8,331.53 101.35,333.75 101.9,339.58 102.45,333.48 103,338.94 103.55,334.94 104.1,338.14 104.65,338.53 105.2,338.13 105.75,334.97 106.3,335.1 106.85,337.21 107.4,335.64 107.95,337.93 108.5,334.79 109.05,327.48 109.6,337.42 110.15,332.7 110.7,338.73 111.25,337.32 111.8,337.55 112.35,336.02 112.9,338.5 113.45,333.61 114,330.3 114.55,333.14 115.1,328.42 115.65,337.26 116.2,335.66 116.75,338.59 117.3,337.31 117.85,338.16 118.4,336.31 118.95,335.04 119.5,337.89 120.05,337.92 120.6,339.56 121.15,339.56 121.7,333.34 122.25,338.35 122.8,336.13 123.35,334.18 123.9,331.33 124.45,334.17 125,335.26 125.55,339.29 126.1,337.12 126.65,334.79 127.2,337.86 127.75,335.76 128.3,332.18 128.85,336.67 129.4,339.14 129.95,337.11 130.5,328.13 131.05,335.92 131.6,333.38 132.15,339.53 132.7,334 133.25,334.63 133.8,336.79 134.35,338.13 134.9,334.25 135.45,339.03 136,337.12 136.55,339.3 137.1,337.34 137.65,337.51 138.2,333.87 138.75,336.74 139.3,331.98 139.85,337 140.4,331.14 140.95,339.23 141.5,338.51 142.05,338.23 142.6,336.79 143.15,330.71 143.7,335.09 144.25,335.28 144.8,337.33 145.35,337.55 145.9,338.32 146.45,339.32 147,336.91 147.55,336.57 148.1,335.49 148.65,339.49 149.2,339.31 149.75,335.86 150.3,334.38 150.85,337.52 151.4,336.57 151.95,338.33 152.5,330.28 153.05,339.02 153.6,335.83 154.15,335.33 154.7,338.96 155.25,337.66 155.8,336.18 156.35,338.66 156.9,333.83 157.45,338.53 158,332.42 158.55,337.33 159.1,339.45 159.65,332.89 160.2,334.36 160.75,334.09 161.3,337.99 161.85,322.18 162.4,333.09 162.95,325.68 163.5,331.73 164.05,329.81 164.6,331.02 165.15,331.73 165.7,330.48 166.25,329.82 166.8,325.64 167.35,329.84 167.9,331.46 168.45,334.21 169,331.9 169.55,333.15 170.1,336.18 170.65,329.4 171.2,338.04 171.75,336.87 172.3,336.13 172.85,328.5 173.4,327.65 173.95,332.52 174.5,337.78 175.05,338.97 175.6,337.28 176.15,335.02 176.7,337.32 177.25,337.21 177.8,337.65 178.35,330.57 178.9,336.34 179.45,330.95 180,333.79 180.55,333.46 181.1,326.35 181.65,330.39 182.2,319.57 182.75,325.2 183.3,317.9 183.85,316.9 184.4,308.62 184.95,302.84 185.5,299.77 186.05,292.59 186.6,288.81 187.15,279.38 187.7,276.39 188.25,276 188.8,276 189.35,276 189.9,276 190.45,276 191,276 191.55,276 192.1,276 192.65,276 193.2,276 193.75,276 194.3,276 194.85,279.14 195.4,278.01 195.95,287.39 196.5,291.36 197.05,285.91 197.6,304.13 198.15,306.91 198.7,314.72 199.25,312.86 199.8,320.14 200.35,321.42 200.9,323.64 201.45,328.93 202,330 202.55,328.3 203.1,333.27 203.65,333.86 204.2,333.33 204.75,333.4 205.3,336.92 205.85,337.9 206.4,337.25 206.95,335.56 207.5,337.79 208.05,337.53 208.6,337.9 209.15,339.01 209.7,338.92 210.25,338.37 210.8,338.98 211.35,332.95 211.9,338.05 212.45,338.29 213,335.83 213.55,338.9 214.1,335.69 214.65,336.03 215.2,336.14 215.75,335.89 216.3,334.14 216.85,335.44 217.4,339.56 217.95,335.7 218.5,336.09 219.05,335.71 219.6,337.18 220.15,338.76 220.7,333.78 221.25,330.64 221.8,338.36 222.35,338.49 222.9,332.14 223.45,335.45 224,336.62 224.55,329.46 225.1,339.17 225.65,339.38 226.2,331.33 226.75,335.26 227.3,333.81 227.85,336.78 228.4,336.63 228.95,337.12 229.5,336.63 230.05,335.7 230.6,338.65 231.15,338.01 231.7,331.53 232.25,338.71 232.8,338.87 233.35,335.24 233.9,335.52 234.45,334.21 235,338.47 235.55,331.64 236.1,335.28 236.65,334.88 237.2,338.37 237.75,337.4 238.3,332.57 238.85,334.7 239.4,335.49 239.95,335.88 240.5,327.18 241.05,327.39 241.6,337.27 242.15,335.57 242.7,331.42 243.25,331.38 243.8,333.8 244.35,328.64 244.9,337.14 245.45,338.91 246,332.21 246.55,328.75 247.1,334.65 247.65,337.47 248.2,335.14 248.75,326.37 249.3,335 249.85,334.95 250.4,336.44 250.95,322.84 251.5,337.72 252.05,339.5 252.6,333.52 253.15,333.72 253.7,332.36 254.25,336.47 254.8,336.89 255.35,337.86 255.9,336.05 256.45,338.19 257,335.72 257.55,331.54 258.1,335.97 258.65,335.26 259.2,333.79 259.75,333.22 260.3,332.42 260.85,333.87 261.4,334.3 261.95,333.04 262.5,328.54 263.05,335.83 263.6,326.33 264.15,328.87 264.7,328.79 265.25,329.14 265.8,325.65 266.35,327.22 266.9,329.62 267.45,330.59 268,330.88 268.55,332.89 269.1,329.93 269.65,330.59 270.2,328.74 270.75,321.62 271.3,326.31 271.85,328.48 272.4,331.1 272.95,328.9 273.5,329.92 274.05,333.14" fill="none" stroke="#0000ff" stroke-width="1.35" stroke-linejoin="round" clip-path="url(#clipB1)"/>
<polyline points="74.4,402.39 75.2,403.41 76,402.79 76.8,403.06 77.6,402.14 78.4,401.92 79.2,402.15 80,403.04 80.8,403.16 81.6,402.64 82.4,402.31 83.2,403.14 84,402.57 84.8,402.76 85.6,403.57 86.4,403.36 87.2,403.37 88,403.18 88.8,401.96 89.6,403.08 90.4,402.91 91.2,402.73 92,403.35 92.8,403.45 93.6,402.53 94.4,402.74 95.2,403.16 96,403.06 96.8,403.51 97.6,402.9 98.4,402.76 99.2,403.33 100,402.42 100.8,403.4 101.6,403.15 102.4,402.43 103.2,402.06 104,402.16 104.8,403.25 105.6,402.37 106.4,403.48 107.2,403.09 108,402.22 108.8,402.87 109.6,403.35 110.4,402.84 111.2,402.94 112,402.81 112.8,403.21 113.6,403.22 114.4,403.51 115.2,403.05 116,403.42 116.8,403.21 117.6,403.09 118.4,402.3 119.2,400.6 120,401.6 120.8,401.18 121.6,400.44 122.4,400.57 123.2,401.24 124,401.6 124.8,401.74 125.6,402.43 126.4,402.72 127.2,402.52 128,402.55 128.8,402.22 129.6,402.37 130.4,401.57 131.2,399.8 132,399.24 132.8,399.22 133.6,397.53 134.4,395.85 135.2,394.91 136,392.58 136.8,390.61 137.6,387.2 138.4,384.3 139.2,382.25 140,380.02 140.8,376.93 141.6,374.27 142.4,372.38 143.2,371.93 144,371.89 144.8,371.67 145.6,372.34 146.4,374.06 147.2,375.67 148,377.64 148.8,379.71 149.6,382.16 150.4,384.51 151.2,388.62 152,390.58 152.8,392.54 153.6,395.04 154.4,397.17 155.2,397.44 156,398.58 156.8,400 157.6,400.95 158.4,401.58 159.2,401.13 160,401.05 160.8,402.08 161.6,402.11 162.4,402.98 163.2,402.36 164,401.95 164.8,402.7 165.6,402.75 166.4,402.5 167.2,402.89 168,402.42 168.8,402.45 169.6,401.55 170.4,402.04 171.2,402.73 172,402 172.8,401.21 173.6,402.06 174.4,401.79 175.2,401.27 176,401.28 176.8,399.5 177.6,400.32 178.4,398.87 179.2,397.25 180,395.77 180.8,394.12 181.6,392.17 182.4,388.12 183.2,386.07 184,381.31 184.8,378.06 185.6,373.42 186.4,369.78 187.2,364.19 188,359.17 188.8,355.2 189.6,352.28 190.4,347.61 191.2,345.67 192,343.8 192.8,343.75 193.6,344.2 194.4,346.33 195.2,348.04 196,352.29 196.8,355.92 197.6,359.36 198.4,364.23 199.2,369.73 200,373.84 200.8,378.7 201.6,382.44 202.4,385.46 203.2,387.7 204,392.16 204.8,394 205.6,396.53 206.4,397.87 207.2,399.01 208,399.74 208.8,399.94 209.6,401.59 210.4,401.61 211.2,401.84 212,401.74 212.8,402.4 213.6,401.47 214.4,402.43 215.2,401.54 216,402.68 216.8,402.65 217.6,402.76 218.4,402.65 219.2,402.65 220,402.7 220.8,402.32 221.6,402.96 222.4,401.87 223.2,402.89 224,401.81 224.8,402.95 225.6,402.39 226.4,401.97 227.2,403.08 228,402.42 228.8,403.2 229.6,403.12 230.4,403.25 231.2,402.51 232,402.46 232.8,402.71 233.6,403 234.4,402.36 235.2,403.35 236,403.19 236.8,401.85 237.6,402 238.4,403.41 239.2,402.76 240,403.29 240.8,403.16 241.6,403.44 242.4,403.05 243.2,403.42 244,402.32 244.8,403.14 245.6,403.26 246.4,402.64 247.2,403.21 248,403.06 248.8,402.96 249.6,403.13 250.4,403.06 251.2,402.28 252,402.65 252.8,403.42 253.6,403.11 254.4,402.34 255.2,403.31 256,402.93 256.8,402.37 257.6,403.06 258.4,402.22 259.2,403.3 260,401.83 260.8,402.96 261.6,403.31 262.4,402.28 263.2,403.03 264,403.33 264.8,401.95 265.6,403.41 266.4,403.34 267.2,402.43 268,403.48 268.8,402.8 269.6,402.96 270.4,402.58 271.2,402.87 272,403.51 272.8,403.07 273.6,403.41" fill="none" stroke="#800080" stroke-width="1.5" stroke-linejoin="round" />
<polyline points="74.4,465.14 75,464.24 75.6,467.39 76.2,467.62 76.8,461.09 77.4,466.98 78,463.89 78.6,467.64 79.2,465.67 79.8,467.19 80.4,463.09 81,467.6 81.6,465.75 82.2,467.99 82.8,466.56 83.4,461.4 84,461.8 84.6,467.1 85.2,467.61 85.8,468.14 86.4,466.39 87,467.39 87.6,464.91 88.2,467.96 88.8,466.36 89.4,466.99 90,467.17 90.6,467.15 91.2,465.86 91.8,461.52 92.4,465.73 93,467.18 93.6,467.45 94.2,465.98 94.8,465.94 95.4,466.27 96,464.43 96.6,464.43 97.2,461.74 97.8,461.54 98.4,462.52 99,461.16 99.6,458.54 100.2,457.69 100.8,454.51 101.4,448.97 102,444.09 102.6,436.21 103.2,428.9 103.8,421.8 104.4,415.85 105,410.38 105.6,407.5 106.2,407.5 106.8,408.09 107.4,412.85 108,417.66 108.6,425.14 109.2,431.18 109.8,436.74 110.4,444.3 111,448.2 111.6,452.54 112.2,454.29 112.8,456.41 113.4,458.81 114,458.61 114.6,458.77 115.2,461.34 115.8,460.08 116.4,458.65 117,464 117.6,464.05 118.2,462.86 118.8,463.52 119.4,464.77 120,466.37 120.6,463.03 121.2,467.24 121.8,467 122.4,463.35 123,465.82 123.6,464.5 124.2,466.72 124.8,466.9 125.4,466.45 126,464.75 126.6,467.82 127.2,464.26 127.8,461.68 128.4,465.58 129,465.81 129.6,466.41 130.2,467.27 130.8,465.01 131.4,465.57 132,467.35 132.6,466.45 133.2,462.24 133.8,466.85 134.4,466.54 135,465.89 135.6,465.15 136.2,466.41 136.8,467.84 137.4,463.6 138,466.75 138.6,461.21 139.2,466.88 139.8,464.91 140.4,464.21 141,466.45 141.6,467.93 142.2,462.11 142.8,466.5 143.4,465.61 144,464.39 144.6,467.95 145.2,466.17 145.8,466.48 146.4,467.7 147,464.23 147.6,467.49 148.2,465.97 148.8,468.15 149.4,467.24 150,468 150.6,467.78 151.2,465.65 151.8,464.88 152.4,466.75 153,468.2 153.6,466.58 154.2,465.61 154.8,467.63 155.4,467.45 156,466.5 156.6,463.71 157.2,467.54 157.8,467.29 158.4,468.08 159,467.01 159.6,466.35 160.2,466.12 160.8,467.74 161.4,466.41 162,468.04 162.6,466.75 163.2,466.02 163.8,465.73 164.4,464.93 165,467.19 165.6,465.77 166.2,467.83 166.8,468.05 167.4,467.27 168,467.5 168.6,466.76 169.2,466.23 169.8,467.36 170.4,467.43 171,467.99 171.6,463.82 172.2,466.43 172.8,463.87 173.4,464.63 174,466 174.6,464.08 175.2,467.78 175.8,462.88 176.4,465.95 177,467.11 177.6,467.12 178.2,466.36 178.8,462.84 179.4,468.13 180,465.63 180.6,467.89 181.2,468.02 181.8,465.49 182.4,465.65 183,464.88 183.6,466.87 184.2,466.5 184.8,467.83 185.4,465.09 186,468.17 186.6,467.66 187.2,466.87 187.8,464.58 188.4,460.5 189,466.21 189.6,465.46 190.2,467.89 190.8,464.96 191.4,468.13 192,465.48 192.6,459.26 193.2,466.25 193.8,467.79 194.4,468.05 195,467.85 195.6,468.28 196.2,468.26 196.8,465.34 197.4,467.42 198,468.23 198.6,467.09 199.2,466.4 199.8,466.09 200.4,466.66 201,467.69 201.6,465.95 202.2,467.58 202.8,464.46 203.4,463.67 204,467.65 204.6,467.87 205.2,466.33 205.8,468.08 206.4,466.58 207,466.48 207.6,467.07 208.2,465.03 208.8,468.16 209.4,464.79 210,463.35 210.6,459.96 211.2,466.93 211.8,467.65 212.4,468.11 213,466.02 213.6,464.77 214.2,466.54 214.8,462.85 215.4,464.5 216,467.42 216.6,464.95 217.2,467.91 217.8,466.6 218.4,467.65 219,465.93 219.6,467.87 220.2,464.41 220.8,468.17 221.4,467.05 222,468.23 222.6,467.66 223.2,467.45 223.8,467.84 224.4,466.31 225,467.25 225.6,463.03 226.2,465.85 226.8,464.1 227.4,463.81 228,466.16 228.6,465.65 229.2,466.95 229.8,464.44 230.4,466.89 231,465.37 231.6,463.34 232.2,467.46 232.8,465.65 233.4,467.39 234,466.57 234.6,468.26 235.2,467.83 235.8,468.26 236.4,466.96 237,468.04 237.6,467.24 238.2,466.04 238.8,467.35 239.4,467.96 240,465.66 240.6,465.69 241.2,468.01 241.8,466.12 242.4,463.06 243,466.97 243.6,465.44 244.2,465.78 244.8,467.96 245.4,467.29 246,467.16 246.6,464.12 247.2,465.35 247.8,466.34 248.4,467.18 249,465.33 249.6,468.19 250.2,466.45 250.8,468.2 251.4,467.71 252,467.43 252.6,464.98 253.2,466.98 253.8,467.36 254.4,468.2 255,466.9 255.6,466.53 256.2,464.93 256.8,467.53 257.4,462.53 258,467.65 258.6,467.9 259.2,463.83 259.8,466.25 260.4,466.21 261,466.35 261.6,467.68 262.2,465.42 262.8,466.15 263.4,467.29 264,467.47 264.6,466.82 265.2,467.33 265.8,464.3 266.4,463.27 267,465.84 267.6,465.02 268.2,462.42 268.8,467.24 269.4,467.62 270,468.02 270.6,467.44 271.2,467.36 271.8,467.91 272.4,467.54 273,468.12 273.6,465.05 274.2,467.45" fill="none" stroke="#8000ff" stroke-width="1.3" stroke-linejoin="round" />
<polyline points="74.4,532.16 75.4,531.95 76.4,531.71 77.4,531.15 78.4,531.57 79.4,531.78 80.4,531.62 81.4,531.55 82.4,531.5 83.4,531.7 84.4,531.62 85.4,530.46 86.4,530.36 87.4,530.52 88.4,529.68 89.4,531.05 90.4,530.84 91.4,530.9 92.4,530.13 93.4,530.93 94.4,531.07 95.4,530.64 96.4,530.19 97.4,528.78 98.4,528.8 99.4,527.97 100.4,526.98 101.4,524.78 102.4,522.72 103.4,519.25 104.4,517.06 105.4,515.41 106.4,513.97 107.4,513.85 108.4,514.42 109.4,515.05 110.4,517.34 111.4,518.99 112.4,520.17 113.4,522.6 114.4,524.48 115.4,526.04 116.4,526.97 117.4,529.25 118.4,529.08 119.4,530.03 120.4,530.88 121.4,531.65 122.4,531.34 123.4,531.2 124.4,532.29 125.4,531.76 126.4,532 127.4,532.02 128.4,532.25 129.4,532.27 130.4,532.28 131.4,530.98 132.4,531.65 133.4,531.96 134.4,531.59 135.4,531.71 136.4,532.4 137.4,530.88 138.4,531.72 139.4,530.41 140.4,532.25 141.4,531.24 142.4,532.18 143.4,531.88 144.4,531.97 145.4,531.76 146.4,532.11 147.4,531.97 148.4,531.65 149.4,532.07 150.4,531.9 151.4,531.52 152.4,531.23 153.4,530.69 154.4,531.29 155.4,530.95 156.4,529.65 157.4,529.64 158.4,528.87 159.4,527.55 160.4,526.23 161.4,526.33 162.4,525.27 163.4,525.04 164.4,523.45 165.4,520.48 166.4,516.49 167.4,509.84 168.4,508.25 169.4,509.74 170.4,515 171.4,518.43 172.4,520.17 173.4,520.04 174.4,519.41 175.4,518.36 176.4,517.94 177.4,517.48 178.4,517.03 179.4,516.07 180.4,515.25 181.4,515.03 182.4,513.62 183.4,511.15 184.4,510.54 185.4,507.51 186.4,504.7 187.4,501.11 188.4,496.42 189.4,492.06 190.4,487.48 191.4,482.22 192.4,479.35 193.4,476.54 194.4,473.85 195.4,473.99 196.4,474.79 197.4,477.36 198.4,478.92 199.4,482.87 200.4,487.31 201.4,491.44 202.4,495.88 203.4,500.25 204.4,504.01 205.4,508.82 206.4,511.69 207.4,515 208.4,518.07 209.4,521.25 210.4,522.51 211.4,524.78 212.4,526.35 213.4,527.6 214.4,527.33 215.4,529.1 216.4,529.67 217.4,529.6 218.4,530.36 219.4,529.67 220.4,530.86 221.4,530.71 222.4,529.68 223.4,529.95 224.4,530.89 225.4,531.32 226.4,531.27 227.4,530.17 228.4,531.62 229.4,531.28 230.4,531.36 231.4,530.95 232.4,531.65 233.4,531.21 234.4,531.02 235.4,532.1 236.4,531.04 237.4,530.79 238.4,531.29 239.4,532.21 240.4,532.11 241.4,531.83 242.4,531.53 243.4,531.83 244.4,532.24 245.4,530.93 246.4,531.33 247.4,531.16 248.4,532.35 249.4,532.26 250.4,530.92 251.4,532.41 252.4,531.03 253.4,531.43 254.4,530.84 255.4,532.37 256.4,532.12 257.4,532.35 258.4,531.65 259.4,531.59 260.4,531.68 261.4,532.09 262.4,532.51 263.4,531.99 264.4,531.82 265.4,532.16 266.4,532.27 267.4,532.51 268.4,531.94 269.4,532.56 270.4,532.35 271.4,531.46 272.4,532.56 273.4,532.07" fill="none" stroke="#000" stroke-width="1.4" stroke-linejoin="round" />
<rect x="74.4" y="277.3" width="199.79999999999998" height="258.59999999999997" fill="none" stroke="#000" stroke-width="1.4"/>
<line x1="74.4" y1="341.3" x2="274.2" y2="341.3" stroke="#000" stroke-width="1.4" />
<line x1="74.4" y1="406.4" x2="274.2" y2="406.4" stroke="#000" stroke-width="1.4" />
<line x1="74.4" y1="471.3" x2="274.2" y2="471.3" stroke="#000" stroke-width="1.4" />
<line x1="83.97" y1="277.3" x2="83.97" y2="279.1" stroke="#000" stroke-width="1" />
<line x1="93.95" y1="277.3" x2="93.95" y2="279.1" stroke="#000" stroke-width="1" />
<line x1="103.92" y1="277.3" x2="103.92" y2="279.1" stroke="#000" stroke-width="1" />
<line x1="113.9" y1="277.3" x2="113.9" y2="279.1" stroke="#000" stroke-width="1" />
<line x1="123.88" y1="277.3" x2="123.88" y2="280.3" stroke="#000" stroke-width="1" />
<line x1="133.85" y1="277.3" x2="133.85" y2="279.1" stroke="#000" stroke-width="1" />
<line x1="143.82" y1="277.3" x2="143.82" y2="279.1" stroke="#000" stroke-width="1" />
<line x1="153.8" y1="277.3" x2="153.8" y2="279.1" stroke="#000" stroke-width="1" />
<line x1="163.77" y1="277.3" x2="163.77" y2="279.1" stroke="#000" stroke-width="1" />
<line x1="173.75" y1="277.3" x2="173.75" y2="280.3" stroke="#000" stroke-width="1" />
<line x1="183.72" y1="277.3" x2="183.72" y2="279.1" stroke="#000" stroke-width="1" />
<line x1="193.7" y1="277.3" x2="193.7" y2="279.1" stroke="#000" stroke-width="1" />
<line x1="203.67" y1="277.3" x2="203.67" y2="279.1" stroke="#000" stroke-width="1" />
<line x1="213.65" y1="277.3" x2="213.65" y2="279.1" stroke="#000" stroke-width="1" />
<line x1="223.62" y1="277.3" x2="223.62" y2="280.3" stroke="#000" stroke-width="1" />
<line x1="233.6" y1="277.3" x2="233.6" y2="279.1" stroke="#000" stroke-width="1" />
<line x1="243.57" y1="277.3" x2="243.57" y2="279.1" stroke="#000" stroke-width="1" />
<line x1="253.55" y1="277.3" x2="253.55" y2="279.1" stroke="#000" stroke-width="1" />
<line x1="263.52" y1="277.3" x2="263.52" y2="279.1" stroke="#000" stroke-width="1" />
<line x1="83.97" y1="341.3" x2="83.97" y2="339.5" stroke="#000" stroke-width="1" />
<line x1="83.97" y1="341.3" x2="83.97" y2="343.1" stroke="#000" stroke-width="1" />
<line x1="93.95" y1="341.3" x2="93.95" y2="339.5" stroke="#000" stroke-width="1" />
<line x1="93.95" y1="341.3" x2="93.95" y2="343.1" stroke="#000" stroke-width="1" />
<line x1="103.92" y1="341.3" x2="103.92" y2="339.5" stroke="#000" stroke-width="1" />
<line x1="103.92" y1="341.3" x2="103.92" y2="343.1" stroke="#000" stroke-width="1" />
<line x1="113.9" y1="341.3" x2="113.9" y2="339.5" stroke="#000" stroke-width="1" />
<line x1="113.9" y1="341.3" x2="113.9" y2="343.1" stroke="#000" stroke-width="1" />
<line x1="123.88" y1="341.3" x2="123.88" y2="338.3" stroke="#000" stroke-width="1" />
<line x1="123.88" y1="341.3" x2="123.88" y2="344.3" stroke="#000" stroke-width="1" />
<line x1="133.85" y1="341.3" x2="133.85" y2="339.5" stroke="#000" stroke-width="1" />
<line x1="133.85" y1="341.3" x2="133.85" y2="343.1" stroke="#000" stroke-width="1" />
<line x1="143.82" y1="341.3" x2="143.82" y2="339.5" stroke="#000" stroke-width="1" />
<line x1="143.82" y1="341.3" x2="143.82" y2="343.1" stroke="#000" stroke-width="1" />
<line x1="153.8" y1="341.3" x2="153.8" y2="339.5" stroke="#000" stroke-width="1" />
<line x1="153.8" y1="341.3" x2="153.8" y2="343.1" stroke="#000" stroke-width="1" />
<line x1="163.77" y1="341.3" x2="163.77" y2="339.5" stroke="#000" stroke-width="1" />
<line x1="163.77" y1="341.3" x2="163.77" y2="343.1" stroke="#000" stroke-width="1" />
<line x1="173.75" y1="341.3" x2="173.75" y2="338.3" stroke="#000" stroke-width="1" />
<line x1="173.75" y1="341.3" x2="173.75" y2="344.3" stroke="#000" stroke-width="1" />
<line x1="183.72" y1="341.3" x2="183.72" y2="339.5" stroke="#000" stroke-width="1" />
<line x1="183.72" y1="341.3" x2="183.72" y2="343.1" stroke="#000" stroke-width="1" />
<line x1="193.7" y1="341.3" x2="193.7" y2="339.5" stroke="#000" stroke-width="1" />
<line x1="193.7" y1="341.3" x2="193.7" y2="343.1" stroke="#000" stroke-width="1" />
<line x1="203.67" y1="341.3" x2="203.67" y2="339.5" stroke="#000" stroke-width="1" />
<line x1="203.67" y1="341.3" x2="203.67" y2="343.1" stroke="#000" stroke-width="1" />
<line x1="213.65" y1="341.3" x2="213.65" y2="339.5" stroke="#000" stroke-width="1" />
<line x1="213.65" y1="341.3" x2="213.65" y2="343.1" stroke="#000" stroke-width="1" />
<line x1="223.62" y1="341.3" x2="223.62" y2="338.3" stroke="#000" stroke-width="1" />
<line x1="223.62" y1="341.3" x2="223.62" y2="344.3" stroke="#000" stroke-width="1" />
<line x1="233.6" y1="341.3" x2="233.6" y2="339.5" stroke="#000" stroke-width="1" />
<line x1="233.6" y1="341.3" x2="233.6" y2="343.1" stroke="#000" stroke-width="1" />
<line x1="243.57" y1="341.3" x2="243.57" y2="339.5" stroke="#000" stroke-width="1" />
<line x1="243.57" y1="341.3" x2="243.57" y2="343.1" stroke="#000" stroke-width="1" />
<line x1="253.55" y1="341.3" x2="253.55" y2="339.5" stroke="#000" stroke-width="1" />
<line x1="253.55" y1="341.3" x2="253.55" y2="343.1" stroke="#000" stroke-width="1" />
<line x1="263.52" y1="341.3" x2="263.52" y2="339.5" stroke="#000" stroke-width="1" />
<line x1="263.52" y1="341.3" x2="263.52" y2="343.1" stroke="#000" stroke-width="1" />
<line x1="83.97" y1="406.4" x2="83.97" y2="404.6" stroke="#000" stroke-width="1" />
<line x1="83.97" y1="406.4" x2="83.97" y2="408.2" stroke="#000" stroke-width="1" />
<line x1="93.95" y1="406.4" x2="93.95" y2="404.6" stroke="#000" stroke-width="1" />
<line x1="93.95" y1="406.4" x2="93.95" y2="408.2" stroke="#000" stroke-width="1" />
<line x1="103.92" y1="406.4" x2="103.92" y2="404.6" stroke="#000" stroke-width="1" />
<line x1="103.92" y1="406.4" x2="103.92" y2="408.2" stroke="#000" stroke-width="1" />
<line x1="113.9" y1="406.4" x2="113.9" y2="404.6" stroke="#000" stroke-width="1" />
<line x1="113.9" y1="406.4" x2="113.9" y2="408.2" stroke="#000" stroke-width="1" />
<line x1="123.88" y1="406.4" x2="123.88" y2="403.4" stroke="#000" stroke-width="1" />
<line x1="123.88" y1="406.4" x2="123.88" y2="409.4" stroke="#000" stroke-width="1" />
<line x1="133.85" y1="406.4" x2="133.85" y2="404.6" stroke="#000" stroke-width="1" />
<line x1="133.85" y1="406.4" x2="133.85" y2="408.2" stroke="#000" stroke-width="1" />
<line x1="143.82" y1="406.4" x2="143.82" y2="404.6" stroke="#000" stroke-width="1" />
<line x1="143.82" y1="406.4" x2="143.82" y2="408.2" stroke="#000" stroke-width="1" />
<line x1="153.8" y1="406.4" x2="153.8" y2="404.6" stroke="#000" stroke-width="1" />
<line x1="153.8" y1="406.4" x2="153.8" y2="408.2" stroke="#000" stroke-width="1" />
<line x1="163.77" y1="406.4" x2="163.77" y2="404.6" stroke="#000" stroke-width="1" />
<line x1="163.77" y1="406.4" x2="163.77" y2="408.2" stroke="#000" stroke-width="1" />
<line x1="173.75" y1="406.4" x2="173.75" y2="403.4" stroke="#000" stroke-width="1" />
<line x1="173.75" y1="406.4" x2="173.75" y2="409.4" stroke="#000" stroke-width="1" />
<line x1="183.72" y1="406.4" x2="183.72" y2="404.6" stroke="#000" stroke-width="1" />
<line x1="183.72" y1="406.4" x2="183.72" y2="408.2" stroke="#000" stroke-width="1" />
<line x1="193.7" y1="406.4" x2="193.7" y2="404.6" stroke="#000" stroke-width="1" />
<line x1="193.7" y1="406.4" x2="193.7" y2="408.2" stroke="#000" stroke-width="1" />
<line x1="203.67" y1="406.4" x2="203.67" y2="404.6" stroke="#000" stroke-width="1" />
<line x1="203.67" y1="406.4" x2="203.67" y2="408.2" stroke="#000" stroke-width="1" />
<line x1="213.65" y1="406.4" x2="213.65" y2="404.6" stroke="#000" stroke-width="1" />
<line x1="213.65" y1="406.4" x2="213.65" y2="408.2" stroke="#000" stroke-width="1" />
<line x1="223.62" y1="406.4" x2="223.62" y2="403.4" stroke="#000" stroke-width="1" />
<line x1="223.62" y1="406.4" x2="223.62" y2="409.4" stroke="#000" stroke-width="1" />
<line x1="233.6" y1="406.4" x2="233.6" y2="404.6" stroke="#000" stroke-width="1" />
<line x1="233.6" y1="406.4" x2="233.6" y2="408.2" stroke="#000" stroke-width="1" />
<line x1="243.57" y1="406.4" x2="243.57" y2="404.6" stroke="#000" stroke-width="1" />
<line x1="243.57" y1="406.4" x2="243.57" y2="408.2" stroke="#000" stroke-width="1" />
<line x1="253.55" y1="406.4" x2="253.55" y2="404.6" stroke="#000" stroke-width="1" />
<line x1="253.55" y1="406.4" x2="253.55" y2="408.2" stroke="#000" stroke-width="1" />
<line x1="263.52" y1="406.4" x2="263.52" y2="404.6" stroke="#000" stroke-width="1" />
<line x1="263.52" y1="406.4" x2="263.52" y2="408.2" stroke="#000" stroke-width="1" />
<line x1="83.97" y1="471.3" x2="83.97" y2="469.5" stroke="#000" stroke-width="1" />
<line x1="83.97" y1="471.3" x2="83.97" y2="473.1" stroke="#000" stroke-width="1" />
<line x1="93.95" y1="471.3" x2="93.95" y2="469.5" stroke="#000" stroke-width="1" />
<line x1="93.95" y1="471.3" x2="93.95" y2="473.1" stroke="#000" stroke-width="1" />
<line x1="103.92" y1="471.3" x2="103.92" y2="469.5" stroke="#000" stroke-width="1" />
<line x1="103.92" y1="471.3" x2="103.92" y2="473.1" stroke="#000" stroke-width="1" />
<line x1="113.9" y1="471.3" x2="113.9" y2="469.5" stroke="#000" stroke-width="1" />
<line x1="113.9" y1="471.3" x2="113.9" y2="473.1" stroke="#000" stroke-width="1" />
<line x1="123.88" y1="471.3" x2="123.88" y2="468.3" stroke="#000" stroke-width="1" />
<line x1="123.88" y1="471.3" x2="123.88" y2="474.3" stroke="#000" stroke-width="1" />
<line x1="133.85" y1="471.3" x2="133.85" y2="469.5" stroke="#000" stroke-width="1" />
<line x1="133.85" y1="471.3" x2="133.85" y2="473.1" stroke="#000" stroke-width="1" />
<line x1="143.82" y1="471.3" x2="143.82" y2="469.5" stroke="#000" stroke-width="1" />
<line x1="143.82" y1="471.3" x2="143.82" y2="473.1" stroke="#000" stroke-width="1" />
<line x1="153.8" y1="471.3" x2="153.8" y2="469.5" stroke="#000" stroke-width="1" />
<line x1="153.8" y1="471.3" x2="153.8" y2="473.1" stroke="#000" stroke-width="1" />
<line x1="163.77" y1="471.3" x2="163.77" y2="469.5" stroke="#000" stroke-width="1" />
<line x1="163.77" y1="471.3" x2="163.77" y2="473.1" stroke="#000" stroke-width="1" />
<line x1="173.75" y1="471.3" x2="173.75" y2="468.3" stroke="#000" stroke-width="1" />
<line x1="173.75" y1="471.3" x2="173.75" y2="474.3" stroke="#000" stroke-width="1" />
<line x1="183.72" y1="471.3" x2="183.72" y2="469.5" stroke="#000" stroke-width="1" />
<line x1="183.72" y1="471.3" x2="183.72" y2="473.1" stroke="#000" stroke-width="1" />
<line x1="193.7" y1="471.3" x2="193.7" y2="469.5" stroke="#000" stroke-width="1" />
<line x1="193.7" y1="471.3" x2="193.7" y2="473.1" stroke="#000" stroke-width="1" />
<line x1="203.67" y1="471.3" x2="203.67" y2="469.5" stroke="#000" stroke-width="1" />
<line x1="203.67" y1="471.3" x2="203.67" y2="473.1" stroke="#000" stroke-width="1" />
<line x1="213.65" y1="471.3" x2="213.65" y2="469.5" stroke="#000" stroke-width="1" />
<line x1="213.65" y1="471.3" x2="213.65" y2="473.1" stroke="#000" stroke-width="1" />
<line x1="223.62" y1="471.3" x2="223.62" y2="468.3" stroke="#000" stroke-width="1" />
<line x1="223.62" y1="471.3" x2="223.62" y2="474.3" stroke="#000" stroke-width="1" />
<line x1="233.6" y1="471.3" x2="233.6" y2="469.5" stroke="#000" stroke-width="1" />
<line x1="233.6" y1="471.3" x2="233.6" y2="473.1" stroke="#000" stroke-width="1" />
<line x1="243.57" y1="471.3" x2="243.57" y2="469.5" stroke="#000" stroke-width="1" />
<line x1="243.57" y1="471.3" x2="243.57" y2="473.1" stroke="#000" stroke-width="1" />
<line x1="253.55" y1="471.3" x2="253.55" y2="469.5" stroke="#000" stroke-width="1" />
<line x1="253.55" y1="471.3" x2="253.55" y2="473.1" stroke="#000" stroke-width="1" />
<line x1="263.52" y1="471.3" x2="263.52" y2="469.5" stroke="#000" stroke-width="1" />
<line x1="263.52" y1="471.3" x2="263.52" y2="473.1" stroke="#000" stroke-width="1" />
<line x1="83.97" y1="535.9" x2="83.97" y2="534.1" stroke="#000" stroke-width="1" />
<line x1="93.95" y1="535.9" x2="93.95" y2="534.1" stroke="#000" stroke-width="1" />
<line x1="103.92" y1="535.9" x2="103.92" y2="534.1" stroke="#000" stroke-width="1" />
<line x1="113.9" y1="535.9" x2="113.9" y2="534.1" stroke="#000" stroke-width="1" />
<line x1="123.88" y1="535.9" x2="123.88" y2="532.9" stroke="#000" stroke-width="1" />
<line x1="133.85" y1="535.9" x2="133.85" y2="534.1" stroke="#000" stroke-width="1" />
<line x1="143.82" y1="535.9" x2="143.82" y2="534.1" stroke="#000" stroke-width="1" />
<line x1="153.8" y1="535.9" x2="153.8" y2="534.1" stroke="#000" stroke-width="1" />
<line x1="163.77" y1="535.9" x2="163.77" y2="534.1" stroke="#000" stroke-width="1" />
<line x1="173.75" y1="535.9" x2="173.75" y2="532.9" stroke="#000" stroke-width="1" />
<line x1="183.72" y1="535.9" x2="183.72" y2="534.1" stroke="#000" stroke-width="1" />
<line x1="193.7" y1="535.9" x2="193.7" y2="534.1" stroke="#000" stroke-width="1" />
<line x1="203.67" y1="535.9" x2="203.67" y2="534.1" stroke="#000" stroke-width="1" />
<line x1="213.65" y1="535.9" x2="213.65" y2="534.1" stroke="#000" stroke-width="1" />
<line x1="223.62" y1="535.9" x2="223.62" y2="532.9" stroke="#000" stroke-width="1" />
<line x1="233.6" y1="535.9" x2="233.6" y2="534.1" stroke="#000" stroke-width="1" />
<line x1="243.57" y1="535.9" x2="243.57" y2="534.1" stroke="#000" stroke-width="1" />
<line x1="253.55" y1="535.9" x2="253.55" y2="534.1" stroke="#000" stroke-width="1" />
<line x1="263.52" y1="535.9" x2="263.52" y2="534.1" stroke="#000" stroke-width="1" />
<line x1="74.4" y1="292.5" x2="76.6" y2="292.5" stroke="#000" stroke-width="1" />
<line x1="274.2" y1="292.5" x2="272" y2="292.5" stroke="#000" stroke-width="1" />
<line x1="74.4" y1="308.2" x2="76.6" y2="308.2" stroke="#000" stroke-width="1" />
<line x1="274.2" y1="308.2" x2="272" y2="308.2" stroke="#000" stroke-width="1" />
<line x1="74.4" y1="324" x2="76.6" y2="324" stroke="#000" stroke-width="1" />
<line x1="274.2" y1="324" x2="272" y2="324" stroke="#000" stroke-width="1" />
<line x1="74.4" y1="349.7" x2="79.4" y2="349.7" stroke="#000" stroke-width="1" />
<line x1="274.2" y1="349.7" x2="269.2" y2="349.7" stroke="#000" stroke-width="1" />
<line x1="74.4" y1="363.6" x2="76.6" y2="363.6" stroke="#000" stroke-width="1" />
<line x1="274.2" y1="363.6" x2="272" y2="363.6" stroke="#000" stroke-width="1" />
<line x1="74.4" y1="376.8" x2="79.4" y2="376.8" stroke="#000" stroke-width="1" />
<line x1="274.2" y1="376.8" x2="269.2" y2="376.8" stroke="#000" stroke-width="1" />
<line x1="74.4" y1="390.1" x2="76.6" y2="390.1" stroke="#000" stroke-width="1" />
<line x1="274.2" y1="390.1" x2="272" y2="390.1" stroke="#000" stroke-width="1" />
<line x1="74.4" y1="412.6" x2="76.6" y2="412.6" stroke="#000" stroke-width="1" />
<line x1="274.2" y1="412.6" x2="272" y2="412.6" stroke="#000" stroke-width="1" />
<line x1="74.4" y1="418.7" x2="76.6" y2="418.7" stroke="#000" stroke-width="1" />
<line x1="274.2" y1="418.7" x2="272" y2="418.7" stroke="#000" stroke-width="1" />
<line x1="74.4" y1="424.7" x2="76.6" y2="424.7" stroke="#000" stroke-width="1" />
<line x1="274.2" y1="424.7" x2="272" y2="424.7" stroke="#000" stroke-width="1" />
<line x1="74.4" y1="430.8" x2="76.6" y2="430.8" stroke="#000" stroke-width="1" />
<line x1="274.2" y1="430.8" x2="272" y2="430.8" stroke="#000" stroke-width="1" />
<line x1="74.4" y1="436.8" x2="79.4" y2="436.8" stroke="#000" stroke-width="1" />
<line x1="274.2" y1="436.8" x2="269.2" y2="436.8" stroke="#000" stroke-width="1" />
<line x1="74.4" y1="443.1" x2="76.6" y2="443.1" stroke="#000" stroke-width="1" />
<line x1="274.2" y1="443.1" x2="272" y2="443.1" stroke="#000" stroke-width="1" />
<line x1="74.4" y1="449.2" x2="76.6" y2="449.2" stroke="#000" stroke-width="1" />
<line x1="274.2" y1="449.2" x2="272" y2="449.2" stroke="#000" stroke-width="1" />
<line x1="74.4" y1="455.3" x2="76.6" y2="455.3" stroke="#000" stroke-width="1" />
<line x1="274.2" y1="455.3" x2="272" y2="455.3" stroke="#000" stroke-width="1" />
<line x1="74.4" y1="461.4" x2="76.6" y2="461.4" stroke="#000" stroke-width="1" />
<line x1="274.2" y1="461.4" x2="272" y2="461.4" stroke="#000" stroke-width="1" />
<line x1="74.4" y1="481.6" x2="76.6" y2="481.6" stroke="#000" stroke-width="1" />
<line x1="274.2" y1="481.6" x2="272" y2="481.6" stroke="#000" stroke-width="1" />
<line x1="74.4" y1="491.8" x2="79.4" y2="491.8" stroke="#000" stroke-width="1" />
<line x1="274.2" y1="491.8" x2="269.2" y2="491.8" stroke="#000" stroke-width="1" />
<line x1="74.4" y1="502.1" x2="76.6" y2="502.1" stroke="#000" stroke-width="1" />
<line x1="274.2" y1="502.1" x2="272" y2="502.1" stroke="#000" stroke-width="1" />
<line x1="74.4" y1="512.3" x2="79.4" y2="512.3" stroke="#000" stroke-width="1" />
<line x1="274.2" y1="512.3" x2="269.2" y2="512.3" stroke="#000" stroke-width="1" />
<line x1="74.4" y1="522.8" x2="76.6" y2="522.8" stroke="#000" stroke-width="1" />
<line x1="274.2" y1="522.8" x2="272" y2="522.8" stroke="#000" stroke-width="1" />
<rect x="215.2" y="283.5" width="67.3" height="27.7" fill="#fff" stroke="#444" stroke-width="0.9"/>
<text transform="translate(222.29,295.37) scale(0.8403,1.0899)" font-size="8.2" text-anchor="start" fill="#0000ff" color="#0000ff" font-weight="bold" >Eu2</text>
<text transform="translate(222.84,306.75) scale(0.8972,0.9812)" font-size="8.3" text-anchor="start" fill="#000" color="#000" font-weight="normal" ><tspan font-style="italic" font-size="9.2">λ</tspan><tspan font-size="8" dy="1.8" font-family="Liberation Serif">ex</tspan><tspan dy="-1.8">= 582.9 nm</tspan></text>
<rect x="215.2" y="346.9" width="67.3" height="26.9" fill="#fff" stroke="#444" stroke-width="0.9"/>
<text transform="translate(222.56,358.81) scale(0.8657,1.0812)" font-size="8.2" text-anchor="start" fill="#800080" color="#800080" font-weight="bold" >EuY</text>
<text transform="translate(222.81,369.96) scale(0.8967,1.0227)" font-size="8.3" text-anchor="start" fill="#000" color="#000" font-weight="normal" ><tspan font-style="italic" font-size="9.2">λ</tspan><tspan font-size="8" dy="1.8" font-family="Liberation Serif">ex</tspan><tspan dy="-1.8">= 581.1 nm</tspan></text>
<rect x="215.2" y="410.3" width="69" height="28.1" fill="#fff" stroke="#444" stroke-width="0.9"/>
<text transform="translate(222.44,422.16) scale(0.8782,0.9849)" font-size="8.2" text-anchor="start" fill="#8000ff" color="#8000ff" font-weight="bold" >Eu18</text>
<text transform="translate(222.84,433.65) scale(0.8931,1.0279)" font-size="8.3" text-anchor="start" fill="#000" color="#000" font-weight="normal" ><tspan font-style="italic" font-size="9.2">λ</tspan><tspan font-size="8" dy="1.8" font-family="Liberation Serif">ex</tspan><tspan dy="-1.8">= 574.15 nm</tspan></text>
<rect x="215.2" y="477.9" width="69" height="27.9" fill="#fff" stroke="#444" stroke-width="0.9"/>
<text transform="translate(222.42,489.22) scale(0.8488,0.9444)" font-size="8.6" text-anchor="start" fill="#000" color="#000" font-weight="normal" >He-Cd laser</text>
<text transform="translate(222.36,501.35) scale(0.8456,1.0755)" font-size="8.6" text-anchor="start" fill="#000" color="#000" font-weight="normal" >0.05 mW@RT</text>
<text transform="translate(132.33,358.7) scale(1.0444,1.0006)" font-size="12.2" text-anchor="start" fill="#000" color="#000" font-weight="normal" >EuX</text>
<line x1="144.2" y1="360.2" x2="144.2" y2="364" stroke="#000" stroke-width="1.1" />
<polygon points="144.2,369.6 141.4,362.8 147.0,362.8" fill="#000"/>
<text transform="translate(79.15,552.55) scale(1.0264,1.0614)" font-size="13.9" text-anchor="middle" fill="#000" color="#000" font-weight="normal" >610</text>
<text transform="translate(129.05,552.55) scale(1.0264,1.0614)" font-size="13.9" text-anchor="middle" fill="#000" color="#000" font-weight="normal" >615</text>
<text transform="translate(179.15,552.55) scale(1.0264,1.0614)" font-size="13.9" text-anchor="middle" fill="#000" color="#000" font-weight="normal" >620</text>
<text transform="translate(229.15,552.55) scale(1.0264,1.0614)" font-size="13.9" text-anchor="middle" fill="#000" color="#000" font-weight="normal" >625</text>
<text transform="translate(279.15,552.55) scale(1.0264,1.0614)" font-size="13.9" text-anchor="middle" fill="#000" color="#000" font-weight="normal" >630</text>
<text transform="translate(121.63,568.58) scale(1.0069,1.0221)" font-size="16.2" text-anchor="start" fill="#000" color="#000" font-weight="normal" >Wavelength (nm)</text>
<text transform="translate(46.1,294.74) scale(1.0121,0.9916)" font-size="16.4" text-anchor="start" fill="#000" color="#000" font-weight="normal" >(b)</text>
<text transform="translate(61.11,482.29) rotate(-90) scale(1.0563,0.9758)" font-size="15.6" text-anchor="start" fill="#000" color="#000" font-weight="normal" >Intensity (arb. units)</text>
<polyline points="78.3,706.27 79.3,706.14 80.3,701.51 81.3,694.27 82.3,684.35 83.3,677.93 84.3,684.44 85.3,693.94 86.3,702.87 87.3,704.68 88.3,706.62 89.3,705.1 90.3,706.71 91.3,706.85 92.3,705.98 93.3,706.63 94.3,706.67 95.3,706.8 96.3,706.56 97.3,705.56 98.3,706.3 99.3,706.14 100.3,704.76 101.3,704.34 102.3,706.12 103.3,705.54 104.3,706.98 105.3,706.33 106.3,706.44 107.3,706.1 108.3,706.31 109.3,706.29 110.3,706.34 111.3,705.82 112.3,705.32 113.3,704.62 114.3,702.92 115.3,699.85 116.3,696.77 117.3,690.88 118.3,682.22 119.3,674.47 120.3,661.87 121.3,651.35 122.3,637.46 123.3,624.94 124.3,613.19 125.3,604.89 126.3,600.49 127.3,600.34 128.3,604.41 129.3,611.17 130.3,624.29 131.3,637.58 132.3,650.72 133.3,663.84 134.3,675.1 135.3,683.78 136.3,690.77 137.3,695.6 138.3,700.84 139.3,703.35 140.3,704.01 141.3,704.58 142.3,705.56 143.3,705.59 144.3,705.97 145.3,706.45 146.3,706.2 147.3,706.64 148.3,705.61 149.3,706.51 150.3,706.77 151.3,704.57 152.3,706.42 153.3,706.24 154.3,705.95 155.3,705.58 156.3,705.73 157.3,706.19 158.3,705.71 159.3,704.97 160.3,706.03 161.3,706.69 162.3,706.8 163.3,706.55 164.3,705.56 165.3,705.92 166.3,706.13 167.3,706.85 168.3,705.84 169.3,706.85 170.3,705.61 171.3,705.39 172.3,706.28 173.3,706 174.3,705.71 175.3,706.39 176.3,706.11 177.3,706.87 178.3,705.96 179.3,706.11 180.3,706.83 181.3,706.24 182.3,706.32 183.3,706.28 184.3,705.56 185.3,705.32 186.3,706.22 187.3,706.81 188.3,706.08 189.3,705.39 190.3,706.18 191.3,705.71 192.3,706.35 193.3,706.91 194.3,705.31 195.3,706.34 196.3,706.56 197.3,706.41 198.3,706.24 199.3,706.65 200.3,706.69 201.3,705.12 202.3,704.42 203.3,704.8 204.3,703.41 205.3,704.1 206.3,701.97 207.3,701.65 208.3,701.22 209.3,700.64 210.3,700.24 211.3,698.02 212.3,699.84 213.3,700.46 214.3,700.45 215.3,701.45 216.3,701.44 217.3,703.07 218.3,705.09 219.3,705.92 220.3,706.26 221.3,706.52 222.3,706.46 223.3,705.55 224.3,706.51 225.3,706.6 226.3,706.42 227.3,705.75 228.3,705.76 229.3,704.66 230.3,705.22 231.3,704.87 232.3,706.09 233.3,706.6 234.3,706.98 235.3,706.27 236.3,703.79 237.3,706.48 238.3,706.83 239.3,706.4 240.3,706.75 241.3,706.48 242.3,706.03 243.3,705.68 244.3,705.85 245.3,706.56 246.3,706.89 247.3,706.76 248.3,705.36 249.3,706.34 250.3,706.03 251.3,706.5 252.3,706 253.3,706.08 254.3,706.48 255.3,706.14 256.3,705.14 257.3,706.31 258.3,705.9 259.3,706.35 260.3,706.61 261.3,706.52 262.3,705.86 263.3,705.97 264.3,705.2 265.3,706.95 266.3,706.73 267.3,705.83 268.3,705.21 269.3,706.94 270.3,705.72 271.3,706.24 272.3,705.54 273.3,706.31 274.3,704.87 275.3,705.62 276.3,704.79 277.3,706.37 278.3,706.35 279.3,706.42 280.3,706.43 281.3,706.45 282.3,705.54 283.3,705.99 284.3,706.56" fill="none" stroke="#000" stroke-width="1.6" stroke-linejoin="round" />
<polyline points="78.3,813.95 79.6,818.61 80.9,817.83 82.2,815.02 83.5,815.07 84.8,813.36 86.1,815.99 87.4,805.84 88.7,812.71 90,811.68 91.3,810.85 92.6,810.27 93.9,808.73 95.2,809.72 96.5,806.11 97.8,806.44 99.1,805.44 100.4,802.31 101.7,798.89 103,796.94 104.3,797.65 105.6,795.43 106.9,792.26 108.2,790.29 109.5,788.78 110.8,789.81 112.1,789.55 113.4,788.67 114.7,780.34 116,771.26 117.3,761.38 118.6,755.74 119.9,748.76 121.2,744.33 122.5,735.99 123.8,727.97 125.1,723.45 126.4,721.48 127.7,719.77 129,720.78 130.3,726.25 131.6,730.05 132.9,727.85 134.2,735.07 135.5,742.76 136.8,748.15 138.1,753.08 139.4,760.08 140.7,769.92 142,774.22 143.3,784.55 144.6,785.85 145.9,789.32 147.2,792.18 148.5,794.13 149.8,796.54 151.1,797.84 152.4,800.91 153.7,800.66 155,801.43 156.3,801.87 157.6,803.74 158.9,806.63 160.2,811.25 161.5,814.85 162.8,814.69 164.1,812.86 165.4,814.46 166.7,815.77 168,816.92 169.3,817.6 170.6,817.51 171.9,819.82 173.2,819.98 174.5,819.37 175.8,818.71 177.1,820.83 178.4,818.94 179.7,819.64 181,820.99 182.3,821.94 183.6,822.81 184.9,822.19 186.2,819.36 187.5,821.2 188.8,822.08 190.1,820.35 191.4,820.99 192.7,819.76 194,821.01 195.3,819.72 196.6,821.23 197.9,819.06 199.2,821.69 200.5,819.42 201.8,818.63 203.1,817.64 204.4,818.63 205.7,816.62 207,819.35 208.3,819.05 209.6,818.49 210.9,815.74 212.2,816.28 213.5,814.5 214.8,813.2 216.1,815.54 217.4,817.46 218.7,814.56 220,816.15 221.3,818.33 222.6,818.19 223.9,820.98 225.2,821.08 226.5,820.74 227.8,819.81 229.1,823.04 230.4,824.42 231.7,826.85 233,825.24 234.3,827.01 235.6,827.7 236.9,825.19 238.2,823.92 239.5,823.27 240.8,827.81 242.1,828 243.4,832.12 244.7,832.57 246,829.43 247.3,825.95 248.6,826.01 249.9,827.39 251.2,829.18 252.5,829.53 253.8,830.99 255.1,830.99 256.4,829.22 257.7,829 259,832.63 260.3,831.71 261.6,831.54 262.9,836.37 264.2,832.46 265.5,831.25 266.8,832.23 268.1,830.09 269.4,830.77 270.7,833.28 272,831.57 273.3,835.46 274.6,833.04 275.9,835.42 277.2,831.85 278.5,831.18 279.8,831.91 281.1,833.71 282.4,832.83 283.7,832.77" fill="none" stroke="#ff0000" stroke-width="1.35" stroke-linejoin="round" />
<rect x="78.3" y="580.2" width="206.4" height="258.5" fill="none" stroke="#000" stroke-width="1.4"/>
<line x1="78.3" y1="709.4" x2="284.7" y2="709.4" stroke="#000" stroke-width="1.4" />
<line x1="91.4" y1="580.2" x2="91.4" y2="582.2" stroke="#000" stroke-width="1" />
<line x1="105.2" y1="580.2" x2="105.2" y2="582.2" stroke="#000" stroke-width="1" />
<line x1="119" y1="580.2" x2="119" y2="582.2" stroke="#000" stroke-width="1" />
<line x1="132.8" y1="580.2" x2="132.8" y2="582.2" stroke="#000" stroke-width="1" />
<line x1="146.6" y1="580.2" x2="146.6" y2="583.4" stroke="#000" stroke-width="1" />
<line x1="160.4" y1="580.2" x2="160.4" y2="582.2" stroke="#000" stroke-width="1" />
<line x1="174.2" y1="580.2" x2="174.2" y2="582.2" stroke="#000" stroke-width="1" />
<line x1="188" y1="580.2" x2="188" y2="582.2" stroke="#000" stroke-width="1" />
<line x1="201.8" y1="580.2" x2="201.8" y2="582.2" stroke="#000" stroke-width="1" />
<line x1="215.6" y1="580.2" x2="215.6" y2="583.4" stroke="#000" stroke-width="1" />
<line x1="229.4" y1="580.2" x2="229.4" y2="582.2" stroke="#000" stroke-width="1" />
<line x1="243.2" y1="580.2" x2="243.2" y2="582.2" stroke="#000" stroke-width="1" />
<line x1="257" y1="580.2" x2="257" y2="582.2" stroke="#000" stroke-width="1" />
<line x1="270.8" y1="580.2" x2="270.8" y2="582.2" stroke="#000" stroke-width="1" />
<line x1="91.4" y1="709.4" x2="91.4" y2="707.4" stroke="#000" stroke-width="1" />
<line x1="91.4" y1="709.4" x2="91.4" y2="711.4" stroke="#000" stroke-width="1" />
<line x1="105.2" y1="709.4" x2="105.2" y2="707.4" stroke="#000" stroke-width="1" />
<line x1="105.2" y1="709.4" x2="105.2" y2="711.4" stroke="#000" stroke-width="1" />
<line x1="119" y1="709.4" x2="119" y2="707.4" stroke="#000" stroke-width="1" />
<line x1="119" y1="709.4" x2="119" y2="711.4" stroke="#000" stroke-width="1" />
<line x1="132.8" y1="709.4" x2="132.8" y2="707.4" stroke="#000" stroke-width="1" />
<line x1="132.8" y1="709.4" x2="132.8" y2="711.4" stroke="#000" stroke-width="1" />
<line x1="146.6" y1="709.4" x2="146.6" y2="706.2" stroke="#000" stroke-width="1" />
<line x1="146.6" y1="709.4" x2="146.6" y2="712.6" stroke="#000" stroke-width="1" />
<line x1="160.4" y1="709.4" x2="160.4" y2="707.4" stroke="#000" stroke-width="1" />
<line x1="160.4" y1="709.4" x2="160.4" y2="711.4" stroke="#000" stroke-width="1" />
<line x1="174.2" y1="709.4" x2="174.2" y2="707.4" stroke="#000" stroke-width="1" />
<line x1="174.2" y1="709.4" x2="174.2" y2="711.4" stroke="#000" stroke-width="1" />
<line x1="188" y1="709.4" x2="188" y2="707.4" stroke="#000" stroke-width="1" />
<line x1="188" y1="709.4" x2="188" y2="711.4" stroke="#000" stroke-width="1" />
<line x1="201.8" y1="709.4" x2="201.8" y2="707.4" stroke="#000" stroke-width="1" />
<line x1="201.8" y1="709.4" x2="201.8" y2="711.4" stroke="#000" stroke-width="1" />
<line x1="215.6" y1="709.4" x2="215.6" y2="706.2" stroke="#000" stroke-width="1" />
<line x1="215.6" y1="709.4" x2="215.6" y2="712.6" stroke="#000" stroke-width="1" />
<line x1="229.4" y1="709.4" x2="229.4" y2="707.4" stroke="#000" stroke-width="1" />
<line x1="229.4" y1="709.4" x2="229.4" y2="711.4" stroke="#000" stroke-width="1" />
<line x1="243.2" y1="709.4" x2="243.2" y2="707.4" stroke="#000" stroke-width="1" />
<line x1="243.2" y1="709.4" x2="243.2" y2="711.4" stroke="#000" stroke-width="1" />
<line x1="257" y1="709.4" x2="257" y2="707.4" stroke="#000" stroke-width="1" />
<line x1="257" y1="709.4" x2="257" y2="711.4" stroke="#000" stroke-width="1" />
<line x1="270.8" y1="709.4" x2="270.8" y2="707.4" stroke="#000" stroke-width="1" />
<line x1="270.8" y1="709.4" x2="270.8" y2="711.4" stroke="#000" stroke-width="1" />
<line x1="91.4" y1="838.7" x2="91.4" y2="836.7" stroke="#000" stroke-width="1" />
<line x1="105.2" y1="838.7" x2="105.2" y2="836.7" stroke="#000" stroke-width="1" />
<line x1="119" y1="838.7" x2="119" y2="836.7" stroke="#000" stroke-width="1" />
<line x1="132.8" y1="838.7" x2="132.8" y2="836.7" stroke="#000" stroke-width="1" />
<line x1="146.6" y1="838.7" x2="146.6" y2="835.5" stroke="#000" stroke-width="1" />
<line x1="160.4" y1="838.7" x2="160.4" y2="836.7" stroke="#000" stroke-width="1" />
<line x1="174.2" y1="838.7" x2="174.2" y2="836.7" stroke="#000" stroke-width="1" />
<line x1="188" y1="838.7" x2="188" y2="836.7" stroke="#000" stroke-width="1" />
<line x1="201.8" y1="838.7" x2="201.8" y2="836.7" stroke="#000" stroke-width="1" />
<line x1="215.6" y1="838.7" x2="215.6" y2="835.5" stroke="#000" stroke-width="1" />
<line x1="229.4" y1="838.7" x2="229.4" y2="836.7" stroke="#000" stroke-width="1" />
<line x1="243.2" y1="838.7" x2="243.2" y2="836.7" stroke="#000" stroke-width="1" />
<line x1="257" y1="838.7" x2="257" y2="836.7" stroke="#000" stroke-width="1" />
<line x1="270.8" y1="838.7" x2="270.8" y2="836.7" stroke="#000" stroke-width="1" />
<line x1="78.3" y1="591.2" x2="82.1" y2="591.2" stroke="#000" stroke-width="1" />
<line x1="284.7" y1="591.2" x2="280.9" y2="591.2" stroke="#000" stroke-width="1" />
<line x1="78.3" y1="610.5" x2="82.1" y2="610.5" stroke="#000" stroke-width="1" />
<line x1="284.7" y1="610.5" x2="280.9" y2="610.5" stroke="#000" stroke-width="1" />
<line x1="78.3" y1="629.8" x2="82.1" y2="629.8" stroke="#000" stroke-width="1" />
<line x1="284.7" y1="629.8" x2="280.9" y2="629.8" stroke="#000" stroke-width="1" />
<line x1="78.3" y1="649" x2="82.1" y2="649" stroke="#000" stroke-width="1" />
<line x1="284.7" y1="649" x2="280.9" y2="649" stroke="#000" stroke-width="1" />
<line x1="78.3" y1="668.2" x2="82.1" y2="668.2" stroke="#000" stroke-width="1" />
<line x1="284.7" y1="668.2" x2="280.9" y2="668.2" stroke="#000" stroke-width="1" />
<line x1="78.3" y1="687.7" x2="82.1" y2="687.7" stroke="#000" stroke-width="1" />
<line x1="284.7" y1="687.7" x2="280.9" y2="687.7" stroke="#000" stroke-width="1" />
<line x1="78.3" y1="719.5" x2="82.1" y2="719.5" stroke="#000" stroke-width="1" />
<line x1="284.7" y1="719.5" x2="280.9" y2="719.5" stroke="#000" stroke-width="1" />
<line x1="78.3" y1="742.2" x2="82.1" y2="742.2" stroke="#000" stroke-width="1" />
<line x1="284.7" y1="742.2" x2="280.9" y2="742.2" stroke="#000" stroke-width="1" />
<line x1="78.3" y1="765.4" x2="82.1" y2="765.4" stroke="#000" stroke-width="1" />
<line x1="284.7" y1="765.4" x2="280.9" y2="765.4" stroke="#000" stroke-width="1" />
<line x1="78.3" y1="788.6" x2="82.1" y2="788.6" stroke="#000" stroke-width="1" />
<line x1="284.7" y1="788.6" x2="280.9" y2="788.6" stroke="#000" stroke-width="1" />
<line x1="78.3" y1="811.7" x2="82.1" y2="811.7" stroke="#000" stroke-width="1" />
<line x1="284.7" y1="811.7" x2="280.9" y2="811.7" stroke="#000" stroke-width="1" />
<line x1="78.3" y1="834.9" x2="82.1" y2="834.9" stroke="#000" stroke-width="1" />
<line x1="284.7" y1="834.9" x2="280.9" y2="834.9" stroke="#000" stroke-width="1" />
<text transform="translate(78.34,855.01) scale(1.0284,0.9799)" font-size="13.9" text-anchor="middle" fill="#000" color="#000" font-weight="normal" >610</text>
<text transform="translate(146.59,855.01) scale(1.0284,0.9799)" font-size="13.9" text-anchor="middle" fill="#000" color="#000" font-weight="normal" >620</text>
<text transform="translate(215.29,855.01) scale(1.0284,0.9799)" font-size="13.9" text-anchor="middle" fill="#000" color="#000" font-weight="normal" >630</text>
<text transform="translate(283.29,855.01) scale(1.0284,0.9799)" font-size="13.9" text-anchor="middle" fill="#000" color="#000" font-weight="normal" >640</text>
<text transform="translate(124.61,870.99) scale(1.0049,1.0203)" font-size="16.2" text-anchor="start" fill="#000" color="#000" font-weight="normal" >Wavelength (nm)</text>
<text transform="translate(48.32,596.47) scale(0.9575,0.9284)" font-size="17" text-anchor="start" fill="#000" color="#000" font-weight="normal" >(c)</text>
<text transform="translate(270.7,599.52) scale(0.8609,0.9803)" font-size="13.4" text-anchor="end" fill="#000" color="#000" font-weight="normal" >Eu1</text>
<text transform="translate(161,615.69) scale(0.8699,0.9614)" font-size="13.4" text-anchor="start" fill="#000" color="#000" font-weight="normal" >PL (</text>
<text transform="translate(183.64,615.27) scale(0.9784,0.8534)" font-size="13.4" text-anchor="start" fill="#000" color="#000" font-weight="normal" ><tspan font-style="italic">λ</tspan><tspan font-size="11" dy="2.5" font-family="Liberation Serif">ex</tspan></text>
<text transform="translate(204.43,615.4) scale(0.9383,0.9610)" font-size="13.4" text-anchor="start" fill="#000" color="#000" font-weight="normal" >= 584.2 nm)</text>
<text transform="translate(272.2,630.6) scale(0.9098,0.9154)" font-size="13.4" text-anchor="end" fill="#000" color="#000" font-weight="normal" >10 K</text>
<text transform="translate(269.13,726.63) scale(0.9430,1.0236)" font-size="13" text-anchor="end" fill="#ff0000" color="#ff0000" font-weight="normal" >EL</text>
<text transform="translate(269.29,742.04) scale(0.9554,1.0232)" font-size="13" text-anchor="end" fill="#ff0000" color="#ff0000" font-weight="normal" >RT</text>
<text transform="translate(53.2,678.6) rotate(-90) scale(1.0800,1.0000)" font-size="13.3" text-anchor="start" fill="#000" color="#000" font-weight="normal" >PL intensity</text>
<text transform="translate(70.6,679.3) rotate(-90) scale(1.1200,1.0000)" font-size="13.4" text-anchor="start" fill="#000" color="#000" font-weight="normal" >(arb. units)</text>
<text transform="translate(53.2,811.7) rotate(-90) scale(1.0800,1.0000)" font-size="13.3" text-anchor="start" fill="#000" color="#000" font-weight="normal" >EL intensity</text>
<text transform="translate(70.6,811.7) rotate(-90) scale(1.1200,1.0000)" font-size="13.4" text-anchor="start" fill="#000" color="#000" font-weight="normal" >(arb. units)</text>
</svg></body></html>
